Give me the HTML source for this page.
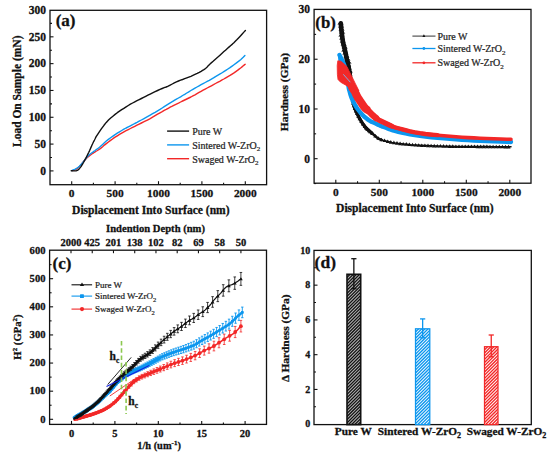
<!DOCTYPE html>
<html><head><meta charset="utf-8"><style>
html,body{margin:0;padding:0;background:#fff;}
svg{display:block;font-family:"Liberation Serif", serif;}
text[font-weight="bold"]{stroke:#111;stroke-width:0.28px;}
text[font-weight="normal"]{stroke:#222;stroke-width:0.22px;}
</style></head><body>
<svg width="550" height="456" viewBox="0 0 550 456">
<rect width="550" height="456" fill="#fff"/>
<rect x="50" y="10.3" width="216.60000000000002" height="174.39999999999998" fill="none" stroke="#111" stroke-width="1.3"/>
<line x1="71.70" y1="184.70" x2="71.70" y2="181.20" stroke="#111" stroke-width="1.1"/>
<line x1="115.10" y1="184.70" x2="115.10" y2="181.20" stroke="#111" stroke-width="1.1"/>
<line x1="158.50" y1="184.70" x2="158.50" y2="181.20" stroke="#111" stroke-width="1.1"/>
<line x1="201.90" y1="184.70" x2="201.90" y2="181.20" stroke="#111" stroke-width="1.1"/>
<line x1="245.30" y1="184.70" x2="245.30" y2="181.20" stroke="#111" stroke-width="1.1"/>
<line x1="93.40" y1="184.70" x2="93.40" y2="182.70" stroke="#111" stroke-width="1.1"/>
<line x1="136.80" y1="184.70" x2="136.80" y2="182.70" stroke="#111" stroke-width="1.1"/>
<line x1="180.20" y1="184.70" x2="180.20" y2="182.70" stroke="#111" stroke-width="1.1"/>
<line x1="223.60" y1="184.70" x2="223.60" y2="182.70" stroke="#111" stroke-width="1.1"/>
<line x1="50.00" y1="170.90" x2="53.50" y2="170.90" stroke="#111" stroke-width="1.1"/>
<line x1="50.00" y1="144.09" x2="53.50" y2="144.09" stroke="#111" stroke-width="1.1"/>
<line x1="50.00" y1="117.27" x2="53.50" y2="117.27" stroke="#111" stroke-width="1.1"/>
<line x1="50.00" y1="90.46" x2="53.50" y2="90.46" stroke="#111" stroke-width="1.1"/>
<line x1="50.00" y1="63.64" x2="53.50" y2="63.64" stroke="#111" stroke-width="1.1"/>
<line x1="50.00" y1="36.83" x2="53.50" y2="36.83" stroke="#111" stroke-width="1.1"/>
<line x1="50.00" y1="157.49" x2="52.00" y2="157.49" stroke="#111" stroke-width="1.1"/>
<line x1="50.00" y1="130.68" x2="52.00" y2="130.68" stroke="#111" stroke-width="1.1"/>
<line x1="50.00" y1="103.86" x2="52.00" y2="103.86" stroke="#111" stroke-width="1.1"/>
<line x1="50.00" y1="77.05" x2="52.00" y2="77.05" stroke="#111" stroke-width="1.1"/>
<line x1="50.00" y1="50.23" x2="52.00" y2="50.23" stroke="#111" stroke-width="1.1"/>
<line x1="50.00" y1="23.42" x2="52.00" y2="23.42" stroke="#111" stroke-width="1.1"/>
<text x="46.1" y="174.75" font-size="11.5" font-weight="bold" text-anchor="end" fill="#111">0</text>
<text x="46.1" y="147.935" font-size="11.5" font-weight="bold" text-anchor="end" fill="#111">50</text>
<text x="46.1" y="121.12" font-size="11.5" font-weight="bold" text-anchor="end" fill="#111">100</text>
<text x="46.1" y="94.305" font-size="11.5" font-weight="bold" text-anchor="end" fill="#111">150</text>
<text x="46.1" y="67.49" font-size="11.5" font-weight="bold" text-anchor="end" fill="#111">200</text>
<text x="46.1" y="40.67500000000002" font-size="11.5" font-weight="bold" text-anchor="end" fill="#111">250</text>
<text x="46.1" y="13.860000000000019" font-size="11.5" font-weight="bold" text-anchor="end" fill="#111">300</text>
<text x="71.7" y="197.1" font-size="11.4" font-weight="bold" text-anchor="middle" fill="#111">0</text>
<text x="115.1" y="197.1" font-size="11.4" font-weight="bold" text-anchor="middle" fill="#111">500</text>
<text x="158.5" y="197.1" font-size="11.4" font-weight="bold" text-anchor="middle" fill="#111">1000</text>
<text x="201.90000000000003" y="197.1" font-size="11.4" font-weight="bold" text-anchor="middle" fill="#111">1500</text>
<text x="245.3" y="197.1" font-size="11.4" font-weight="bold" text-anchor="middle" fill="#111">2000</text>
<text x="150.8" y="213.8" font-size="11.55" font-weight="bold" text-anchor="middle" fill="#111">Displacement Into Surface (nm)</text>
<text x="20.6" y="91.3" font-size="11.5" font-weight="bold" text-anchor="middle" fill="#111" transform="rotate(-90 20.6 91.3)">Load On Sample (mN)</text>
<text x="55.7" y="26.0" font-size="17" font-weight="bold" text-anchor="start" fill="#111">(a)</text>
<polyline points="72.5,170.6 73.2,170.4 74.3,170.1 75.4,169.7 76.5,169.2 77.5,168.5 78.4,167.6 79.3,166.5 80.3,165.5 81.3,164.4 82.2,163.2 83.2,161.9 84.2,160.8 85.2,159.7 86.1,158.7 87.0,157.8 88.0,156.9 89.0,156.1 89.9,155.4 90.9,154.7 91.9,154.0 92.9,153.3 93.8,152.7 94.8,152.1 95.7,151.5 96.6,151.0 97.4,150.5 98.3,150.0 99.5,149.2 100.9,148.1 102.6,146.7 104.4,145.1 106.3,143.6 108.4,142.0 110.6,140.4 112.9,138.7 115.1,137.2 117.3,135.8 119.5,134.4 121.7,133.1 123.9,131.9 126.1,130.7 128.3,129.6 130.4,128.5 132.6,127.4 134.8,126.3 137.0,125.2 139.2,124.1 141.4,123.0 143.6,121.9 145.7,120.9 147.9,119.8 150.2,118.6 152.6,117.2 155.1,115.7 157.6,114.2 160.0,112.8 162.2,111.6 164.2,110.4 166.2,109.4 168.2,108.3 170.2,107.2 172.3,106.2 174.3,105.1 176.4,104.1 178.5,103.1 180.6,102.0 182.6,101.0 184.7,100.0 186.8,99.0 188.8,98.0 190.9,97.0 192.9,95.9 195.0,94.8 197.0,93.6 199.1,92.4 201.1,91.3 203.1,90.2 205.2,89.1 207.2,88.0 209.3,86.9 211.4,85.8 213.5,84.7 215.5,83.5 217.6,82.4 219.7,81.3 221.7,80.1 223.8,79.0 225.8,77.8 227.9,76.6 230.0,75.4 232.1,74.1 234.0,72.9 235.8,71.6 237.5,70.4 239.1,69.1 240.6,68.0 242.0,66.9 243.3,65.8 244.4,64.9 245.2,64.3" fill="none" stroke="#f22828" stroke-width="1.4" stroke-linejoin="round" stroke-linecap="round"/>
<polyline points="71.8,170.6 72.7,170.2 73.9,169.7 75.3,169.1 76.5,168.4 77.5,167.7 78.5,167.0 79.4,166.2 80.3,165.3 81.3,164.3 82.2,163.1 83.2,161.9 84.2,160.7 85.2,159.5 86.1,158.3 87.0,157.1 88.0,156.0 89.0,155.1 89.9,154.3 90.9,153.5 91.9,152.8 92.9,152.1 93.8,151.4 94.8,150.7 95.7,150.0 96.6,149.4 97.4,148.9 98.3,148.2 99.5,147.3 100.9,146.0 102.6,144.4 104.4,142.7 106.3,141.0 108.4,139.4 110.6,137.7 112.9,136.1 115.1,134.6 117.3,133.2 119.5,131.8 121.7,130.5 123.9,129.2 126.1,128.0 128.3,126.9 130.4,125.8 132.6,124.7 134.8,123.5 137.0,122.4 139.2,121.2 141.4,120.0 143.6,118.8 145.7,117.6 147.9,116.4 150.2,115.1 152.6,113.7 155.1,112.3 157.6,110.8 160.0,109.4 162.2,108.0 164.2,106.7 166.2,105.4 168.2,104.1 170.2,102.8 172.3,101.6 174.3,100.4 176.4,99.2 178.5,98.0 180.6,96.8 182.6,95.5 184.7,94.3 186.8,93.0 188.8,91.8 190.9,90.5 192.9,89.3 195.0,88.1 197.0,87.0 199.1,85.8 201.1,84.7 203.1,83.6 205.2,82.5 207.2,81.4 209.3,80.3 211.4,79.1 213.5,77.9 215.5,76.6 217.6,75.4 219.7,74.2 221.7,73.0 223.8,71.7 225.8,70.4 227.9,69.0 230.0,67.6 232.1,66.1 234.0,64.7 235.8,63.4 237.5,62.1 239.1,60.9 240.6,59.7 241.9,58.5 243.2,57.3 244.2,56.2 244.9,55.5" fill="none" stroke="#0c96ee" stroke-width="1.4" stroke-linejoin="round" stroke-linecap="round"/>
<polyline points="71.2,170.8 72.2,170.8 73.7,170.9 75.2,170.9 76.5,170.7 77.4,170.3 78.2,169.8 78.9,169.2 79.6,168.4 80.4,167.4 81.2,166.3 81.9,165.1 82.7,163.8 83.5,162.5 84.2,161.2 84.9,159.8 85.7,158.4 86.5,156.9 87.2,155.5 88.0,153.9 88.8,152.3 89.6,150.6 90.4,148.7 91.2,146.9 91.9,145.2 92.6,143.8 93.2,142.5 93.8,141.3 94.5,140.0 95.1,138.8 95.6,137.7 96.3,136.4 97.5,134.6 99.3,131.9 101.5,128.7 104.0,125.3 106.3,122.4 108.5,120.1 110.7,118.0 112.9,116.2 115.1,114.4 117.3,112.7 119.5,111.2 121.7,109.7 123.9,108.3 126.1,106.9 128.3,105.5 130.4,104.2 132.6,103.0 134.8,101.8 137.0,100.7 139.2,99.6 141.4,98.5 143.6,97.4 145.7,96.3 147.9,95.2 150.2,94.1 152.6,92.9 155.1,91.7 157.6,90.5 160.0,89.4 162.2,88.5 164.2,87.7 166.2,87.0 168.2,86.1 170.2,85.1 172.3,84.0 174.3,82.9 176.4,81.9 178.5,81.0 180.6,80.2 182.6,79.5 184.7,78.7 186.8,77.9 188.8,77.1 190.9,76.3 192.9,75.4 195.0,74.4 197.2,73.4 199.3,72.3 201.1,71.3 202.6,70.4 203.9,69.6 205.1,68.8 206.1,68.0 206.9,67.3 207.5,66.6 208.2,65.8 209.3,64.7 211.0,63.1 213.1,61.3 215.4,59.2 217.6,57.3 219.7,55.4 221.8,53.5 223.9,51.6 225.8,49.9 227.6,48.3 229.2,46.9 230.8,45.5 232.4,44.1 233.9,42.7 235.3,41.3 236.8,39.8 238.3,38.2 240.2,36.2 242.2,34.0 244.1,31.9 245.4,30.5" fill="none" stroke="#111" stroke-width="1.4" stroke-linejoin="round" stroke-linecap="round"/>
<line x1="167.10" y1="131.10" x2="189.10" y2="131.10" stroke="#111" stroke-width="1.4"/>
<text x="192.2" y="135.0" font-size="10" font-weight="normal" text-anchor="start" fill="#222">Pure W</text>
<line x1="167.10" y1="144.90" x2="189.10" y2="144.90" stroke="#0c96ee" stroke-width="1.4"/>
<text x="192.2" y="148.8" font-size="10" font-weight="normal" text-anchor="start" fill="#222">Sintered W-ZrO<tspan font-size="7" dy="2.5">2</tspan></text>
<line x1="167.10" y1="158.70" x2="189.10" y2="158.70" stroke="#f22828" stroke-width="1.4"/>
<text x="192.2" y="162.6" font-size="10" font-weight="normal" text-anchor="start" fill="#222">Swaged W-ZrO<tspan font-size="7" dy="2.5">2</tspan></text>
<rect x="314.1" y="9.4" width="216.89999999999998" height="173.79999999999998" fill="none" stroke="#111" stroke-width="1.3"/>
<line x1="335.80" y1="183.20" x2="335.80" y2="179.70" stroke="#111" stroke-width="1.1"/>
<line x1="379.30" y1="183.20" x2="379.30" y2="179.70" stroke="#111" stroke-width="1.1"/>
<line x1="422.80" y1="183.20" x2="422.80" y2="179.70" stroke="#111" stroke-width="1.1"/>
<line x1="466.30" y1="183.20" x2="466.30" y2="179.70" stroke="#111" stroke-width="1.1"/>
<line x1="509.80" y1="183.20" x2="509.80" y2="179.70" stroke="#111" stroke-width="1.1"/>
<line x1="357.55" y1="183.20" x2="357.55" y2="181.20" stroke="#111" stroke-width="1.1"/>
<line x1="401.05" y1="183.20" x2="401.05" y2="181.20" stroke="#111" stroke-width="1.1"/>
<line x1="444.55" y1="183.20" x2="444.55" y2="181.20" stroke="#111" stroke-width="1.1"/>
<line x1="488.05" y1="183.20" x2="488.05" y2="181.20" stroke="#111" stroke-width="1.1"/>
<line x1="314.10" y1="158.70" x2="317.60" y2="158.70" stroke="#111" stroke-width="1.1"/>
<line x1="314.10" y1="108.97" x2="317.60" y2="108.97" stroke="#111" stroke-width="1.1"/>
<line x1="314.10" y1="59.24" x2="317.60" y2="59.24" stroke="#111" stroke-width="1.1"/>
<line x1="314.10" y1="183.56" x2="316.10" y2="183.56" stroke="#111" stroke-width="1.1"/>
<line x1="314.10" y1="133.83" x2="316.10" y2="133.83" stroke="#111" stroke-width="1.1"/>
<line x1="314.10" y1="84.10" x2="316.10" y2="84.10" stroke="#111" stroke-width="1.1"/>
<line x1="314.10" y1="34.37" x2="316.10" y2="34.37" stroke="#111" stroke-width="1.1"/>
<text x="310.0" y="162.54999999999998" font-size="11.5" font-weight="bold" text-anchor="end" fill="#111">0</text>
<text x="310.0" y="112.82" font-size="11.5" font-weight="bold" text-anchor="end" fill="#111">10</text>
<text x="310.0" y="63.089999999999996" font-size="11.5" font-weight="bold" text-anchor="end" fill="#111">20</text>
<text x="310.0" y="13.35999999999999" font-size="11.5" font-weight="bold" text-anchor="end" fill="#111">30</text>
<text x="335.8" y="196.4" font-size="11.4" font-weight="bold" text-anchor="middle" fill="#111">0</text>
<text x="379.3" y="196.4" font-size="11.4" font-weight="bold" text-anchor="middle" fill="#111">500</text>
<text x="422.8" y="196.4" font-size="11.4" font-weight="bold" text-anchor="middle" fill="#111">1000</text>
<text x="466.3" y="196.4" font-size="11.4" font-weight="bold" text-anchor="middle" fill="#111">1500</text>
<text x="509.8" y="196.4" font-size="11.4" font-weight="bold" text-anchor="middle" fill="#111">2000</text>
<text x="414.8" y="212.4" font-size="11.55" font-weight="bold" text-anchor="middle" fill="#111">Displacement Into Surface (nm)</text>
<text x="288" y="92.1" font-size="11.4" font-weight="bold" text-anchor="middle" fill="#111" transform="rotate(-90 288 92.1)">Hardness (GPa)</text>
<text x="315.3" y="27.5" font-size="16.8" font-weight="bold" text-anchor="start" fill="#111">(b)</text>
<polyline points="340.8,22.7 340.9,23.8 341.0,25.4 341.1,27.3 341.3,29.4 341.5,31.4 341.7,33.5 342.0,35.6 342.3,37.9 342.6,40.2 343.0,42.4 343.5,44.6 344.0,46.9 344.6,49.1 345.1,51.3 345.7,53.4 346.2,55.4 346.8,57.4 347.3,59.3 347.8,61.1 348.3,63.0 348.7,64.8 349.1,66.5 349.4,68.3 349.7,70.1 350.0,72.0 350.2,74.1 350.5,76.2 350.6,78.4 350.8,80.7 351.0,83.0 351.2,85.4 351.3,87.8 351.4,90.3 351.6,92.7 351.8,95.0 352.1,97.2 352.5,99.2 352.9,101.3 353.3,103.2 353.8,105.0 354.3,106.7 354.9,108.3 355.5,109.8 356.1,111.3 356.8,112.8 357.5,114.3 358.2,115.7 358.9,117.1 359.7,118.6 360.5,120.0 361.4,121.5 362.4,123.1 363.4,124.6 364.5,126.1 365.6,127.5 366.9,128.8 368.2,130.1 369.6,131.2 370.9,132.3 372.0,133.2 372.8,133.9 373.3,134.4 373.8,134.8 374.3,135.3 375.0,135.8 375.8,136.5 376.6,137.2 377.5,137.9 378.6,138.6 380.0,139.3 381.7,139.9" fill="none" stroke="#111" stroke-width="2.6" stroke-linejoin="round" stroke-linecap="round"/>
<polyline points="345.1,51.3 345.7,53.4 346.2,55.4 346.8,57.4 347.3,59.3 347.8,61.1 348.3,63.0 348.7,64.8 349.1,66.5 349.4,68.3 349.7,70.1 350.0,72.0 350.2,74.1 350.5,76.2 350.6,78.4 350.8,80.7 351.0,83.0 351.2,85.4 351.3,87.8 351.4,90.3 351.6,92.7 351.8,95.0 352.1,97.2 352.5,99.2 352.9,101.3 353.3,103.2 353.8,105.0 354.3,106.7 354.9,108.3 355.5,109.8 356.1,111.3 356.8,112.8 357.5,114.3 358.2,115.7 358.9,117.1 359.7,118.6 360.5,120.0 361.4,121.5 362.4,123.1 363.4,124.6 364.5,126.1 365.6,127.5 366.9,128.8 368.2,130.1 369.6,131.2 370.9,132.3 372.0,133.2" fill="none" stroke="#111" stroke-width="3.4" stroke-linejoin="round" stroke-linecap="round"/>
<path d="M347.7,73.5 L350.0,70.1 L352.3,73.5Z" fill="#111"/>
<path d="M347.9,76.1 L350.2,72.7 L352.5,76.1Z" fill="#111"/>
<path d="M348.2,78.7 L350.5,75.3 L352.8,78.7Z" fill="#111"/>
<path d="M348.4,81.3 L350.7,77.9 L353.0,81.3Z" fill="#111"/>
<path d="M348.6,83.9 L350.9,80.5 L353.2,83.9Z" fill="#111"/>
<path d="M348.8,86.5 L351.1,83.1 L353.4,86.5Z" fill="#111"/>
<path d="M349.0,89.1 L351.3,85.7 L353.6,89.1Z" fill="#111"/>
<path d="M349.2,91.7 L351.5,88.3 L353.8,91.7Z" fill="#111"/>
<path d="M349.4,94.3 L351.7,90.9 L354.0,94.3Z" fill="#111"/>
<path d="M349.6,96.9 L351.9,93.5 L354.2,96.9Z" fill="#111"/>
<path d="M350.1,99.5 L352.4,96.1 L354.7,99.5Z" fill="#111"/>
<path d="M350.6,102.1 L352.9,98.7 L355.2,102.1Z" fill="#111"/>
<path d="M351.1,104.7 L353.4,101.3 L355.7,104.7Z" fill="#111"/>
<path d="M351.8,107.3 L354.1,103.9 L356.4,107.3Z" fill="#111"/>
<path d="M352.8,109.9 L355.1,106.5 L357.4,109.9Z" fill="#111"/>
<path d="M353.8,112.5 L356.1,109.1 L358.4,112.5Z" fill="#111"/>
<path d="M354.9,115.1 L357.2,111.7 L359.5,115.1Z" fill="#111"/>
<path d="M356.2,117.7 L358.5,114.3 L360.8,117.7Z" fill="#111"/>
<path d="M357.6,120.3 L359.9,116.9 L362.2,120.3Z" fill="#111"/>
<path d="M359.2,122.9 L361.5,119.5 L363.8,122.9Z" fill="#111"/>
<path d="M360.9,125.5 L363.2,122.1 L365.5,125.5Z" fill="#111"/>
<path d="M362.7,128.1 L365.0,124.7 L367.3,128.1Z" fill="#111"/>
<path d="M365.2,130.7 L367.5,127.3 L369.8,130.7Z" fill="#111"/>
<path d="M368.1,133.3 L370.4,129.9 L372.7,133.3Z" fill="#111"/>
<polyline points="378.6,138.6 380.0,139.3 381.7,139.9 383.6,140.5 385.8,141.0 387.9,141.5 390.0,142.0 391.8,142.4 393.5,142.7 395.3,143.0 397.4,143.3 400.0,143.6 403.2,143.9 406.8,144.3 410.8,144.7 415.2,145.0 420.0,145.3 425.4,145.6 431.3,145.8 437.5,146.0 443.8,146.2 450.0,146.3 456.0,146.4 462.0,146.5 467.9,146.5 473.9,146.6 480.0,146.6 486.6,146.6 493.8,146.7 500.8,146.7 506.8,146.8 511.0,146.8" fill="none" stroke="#111" stroke-width="1.5" stroke-linejoin="round" stroke-linecap="round"/>
<polyline points="340.8,23.2 341.5,31.4 343.0,42.4 345.7,53.4 347.6,64.3 349.6,75.5" fill="none" stroke="#111" stroke-width="4.6" stroke-linejoin="round" stroke-linecap="round"/>
<path d="M337.4,24.4 L340.5,21.2 L343.6,24.4Z" fill="#111"/>
<path d="M338.0,27.4 L341.1,24.2 L344.2,27.4Z" fill="#111"/>
<path d="M338.5,30.4 L341.6,27.2 L344.7,30.4Z" fill="#111"/>
<path d="M339.1,33.4 L342.2,30.2 L345.3,33.4Z" fill="#111"/>
<path d="M338.3,36.4 L341.4,33.2 L344.5,36.4Z" fill="#111"/>
<path d="M339.0,39.4 L342.1,36.2 L345.2,39.4Z" fill="#111"/>
<path d="M339.7,42.4 L342.8,39.2 L345.9,42.4Z" fill="#111"/>
<path d="M340.6,45.4 L343.7,42.2 L346.8,45.4Z" fill="#111"/>
<path d="M341.6,48.4 L344.7,45.2 L347.8,48.4Z" fill="#111"/>
<path d="M341.2,51.4 L344.3,48.2 L347.4,51.4Z" fill="#111"/>
<path d="M342.2,54.4 L345.3,51.2 L348.4,54.4Z" fill="#111"/>
<path d="M343.3,57.4 L346.4,54.2 L349.5,57.4Z" fill="#111"/>
<path d="M344.4,60.4 L347.5,57.2 L350.6,60.4Z" fill="#111"/>
<path d="M345.5,63.4 L348.6,60.2 L351.7,63.4Z" fill="#111"/>
<path d="M345.0,66.4 L348.1,63.2 L351.2,66.4Z" fill="#111"/>
<path d="M345.8,69.4 L348.9,66.2 L352.0,69.4Z" fill="#111"/>
<path d="M346.7,72.4 L349.8,69.2 L352.9,72.4Z" fill="#111"/>
<path d="M364.0,129.5 L366.0,125.9 L368.0,129.5Z" fill="#111"/>
<path d="M367.1,132.2 L369.1,128.6 L371.1,132.2Z" fill="#111"/>
<path d="M370.2,135.0 L372.2,131.4 L374.2,135.0Z" fill="#111"/>
<path d="M373.3,137.6 L375.3,134.0 L377.3,137.6Z" fill="#111"/>
<path d="M376.4,139.8 L378.4,136.2 L380.4,139.8Z" fill="#111"/>
<path d="M379.5,141.3 L381.5,137.7 L383.5,141.3Z" fill="#111"/>
<path d="M382.6,142.1 L384.6,138.5 L386.6,142.1Z" fill="#111"/>
<path d="M385.7,143.0 L387.7,139.4 L389.7,143.0Z" fill="#111"/>
<path d="M388.8,143.7 L390.8,140.1 L392.8,143.7Z" fill="#111"/>
<path d="M391.9,144.2 L393.9,140.6 L395.9,144.2Z" fill="#111"/>
<path d="M395.0,144.7 L397.0,141.1 L399.0,144.7Z" fill="#111"/>
<path d="M398.1,145.2 L400.1,141.6 L402.1,145.2Z" fill="#111"/>
<path d="M401.2,145.5 L403.2,141.9 L405.2,145.5Z" fill="#111"/>
<path d="M404.3,145.7 L406.3,142.1 L408.3,145.7Z" fill="#111"/>
<path d="M407.4,146.0 L409.4,142.4 L411.4,146.0Z" fill="#111"/>
<path d="M410.5,146.3 L412.5,142.7 L414.5,146.3Z" fill="#111"/>
<path d="M413.6,146.5 L415.6,142.9 L417.6,146.5Z" fill="#111"/>
<path d="M416.7,146.8 L418.7,143.2 L420.7,146.8Z" fill="#111"/>
<path d="M419.8,147.0 L421.8,143.4 L423.8,147.0Z" fill="#111"/>
<path d="M422.9,147.1 L424.9,143.5 L426.9,147.1Z" fill="#111"/>
<path d="M426.0,147.2 L428.0,143.6 L430.0,147.2Z" fill="#111"/>
<path d="M429.1,147.3 L431.1,143.7 L433.1,147.3Z" fill="#111"/>
<path d="M432.2,147.4 L434.2,143.8 L436.2,147.4Z" fill="#111"/>
<path d="M435.3,147.5 L437.3,143.9 L439.3,147.5Z" fill="#111"/>
<path d="M438.4,147.6 L440.4,144.0 L442.4,147.6Z" fill="#111"/>
<path d="M441.5,147.7 L443.5,144.1 L445.5,147.7Z" fill="#111"/>
<path d="M444.6,147.8 L446.6,144.2 L448.6,147.8Z" fill="#111"/>
<path d="M447.7,147.9 L449.7,144.3 L451.7,147.9Z" fill="#111"/>
<path d="M450.8,147.9 L452.8,144.3 L454.8,147.9Z" fill="#111"/>
<path d="M453.9,148.0 L455.9,144.4 L457.9,148.0Z" fill="#111"/>
<path d="M457.0,148.0 L459.0,144.4 L461.0,148.0Z" fill="#111"/>
<path d="M460.1,148.0 L462.1,144.4 L464.1,148.0Z" fill="#111"/>
<path d="M463.2,148.1 L465.2,144.5 L467.2,148.1Z" fill="#111"/>
<path d="M466.3,148.1 L468.3,144.5 L470.3,148.1Z" fill="#111"/>
<path d="M469.4,148.1 L471.4,144.5 L473.4,148.1Z" fill="#111"/>
<path d="M472.5,148.1 L474.5,144.5 L476.5,148.1Z" fill="#111"/>
<path d="M475.6,148.2 L477.6,144.6 L479.6,148.2Z" fill="#111"/>
<path d="M478.7,148.2 L480.7,144.6 L482.7,148.2Z" fill="#111"/>
<path d="M481.8,148.2 L483.8,144.6 L485.8,148.2Z" fill="#111"/>
<path d="M484.9,148.2 L486.9,144.6 L488.9,148.2Z" fill="#111"/>
<path d="M488.0,148.3 L490.0,144.7 L492.0,148.3Z" fill="#111"/>
<path d="M491.1,148.3 L493.1,144.7 L495.1,148.3Z" fill="#111"/>
<path d="M494.2,148.3 L496.2,144.7 L498.2,148.3Z" fill="#111"/>
<path d="M497.3,148.3 L499.3,144.7 L501.3,148.3Z" fill="#111"/>
<path d="M500.4,148.3 L502.4,144.7 L504.4,148.3Z" fill="#111"/>
<path d="M503.5,148.4 L505.5,144.8 L507.5,148.4Z" fill="#111"/>
<path d="M506.6,148.4 L508.6,144.8 L510.6,148.4Z" fill="#111"/>
<polyline points="339.5,55.0 339.8,55.7 340.3,56.6 340.9,57.7 341.5,58.9 342.0,60.0 342.5,61.1 343.0,62.2 343.5,63.3 344.0,64.6 344.5,66.0 344.9,67.6 345.4,69.4 345.8,71.3 346.1,73.2 346.5,75.0 346.8,76.8 347.1,78.7 347.4,80.5 347.7,82.3 348.0,84.0 348.3,85.5 348.6,86.9 348.8,88.2 349.1,89.6 349.5,91.0 349.9,92.5 350.3,94.0 350.8,95.6 351.3,97.2 352.0,98.8 352.8,100.5 353.6,102.3 354.5,104.0 355.5,105.8 356.6,107.5 357.8,109.2 359.0,110.8 360.3,112.5 361.7,114.0 363.0,115.4 364.3,116.7 365.7,117.8 367.0,118.9 368.4,119.9 369.6,120.7 370.8,121.4 371.9,121.9 372.9,122.3 374.0,122.8 375.0,123.2 375.9,123.7 376.8,124.1 377.7,124.6 378.7,125.0 380.0,125.6 381.7,126.3 383.7,127.0 385.9,127.8 388.0,128.6 390.0,129.3 391.5,129.9 392.8,130.3 394.0,130.7 395.7,131.2 398.2,131.8 401.6,132.5 405.5,133.4 410.0,134.3 414.9,135.1 420.0,135.9 425.5,136.6 431.4,137.2 437.6,137.8 443.9,138.4 450.0,138.9 456.0,139.4 462.0,139.8 467.9,140.1 473.9,140.5 480.0,140.8 486.6,141.1 493.8,141.4 500.8,141.6 506.8,141.8 511.0,142.0" fill="none" stroke="#0c96ee" stroke-width="4.4" stroke-linejoin="round" stroke-linecap="round"/>
<polyline points="339.6,55.0 340.0,60.0 341.5,64.0 343.5,67.0" fill="none" stroke="#0c96ee" stroke-width="3.4" stroke-linejoin="round" stroke-linecap="round"/>
<polyline points="352.5,88.0 352.8,88.4 353.1,88.8 353.5,89.4 354.0,90.2 354.5,91.0 355.0,92.0 355.6,93.2 356.2,94.5 356.9,95.8 357.5,97.0 358.1,98.1 358.8,99.0 359.4,100.0 360.1,101.0 360.8,102.0 361.5,103.1 362.2,104.2 363.0,105.3 363.8,106.5 364.6,107.5 365.5,108.5 366.6,109.4 367.6,110.4 368.6,111.2 369.5,112.0 370.2,112.7 370.8,113.3 371.4,113.9 371.9,114.4 372.5,115.0 373.2,115.6 373.8,116.2 374.5,116.8 375.3,117.4 376.0,118.0 376.7,118.5 377.3,119.0 377.9,119.4 378.8,120.0 380.0,120.6 381.6,121.4 383.7,122.4 385.8,123.4 388.0,124.4 390.0,125.3 391.5,126.0 392.8,126.5 394.0,127.0 395.7,127.6 398.2,128.3 401.6,129.2 405.5,130.2 410.0,131.3 414.9,132.3 420.0,133.2 425.5,134.0 431.4,134.6 437.6,135.2 443.9,135.8 450.0,136.3 456.0,136.8 462.0,137.2 467.9,137.6 473.9,137.9 480.0,138.2 486.6,138.5 493.8,138.8 500.8,139.0 506.8,139.2 511.0,139.3" fill="none" stroke="#f22828" stroke-width="3.6" stroke-linejoin="round" stroke-linecap="round"/>
<polyline points="352.5,88.0 352.8,88.4 353.1,88.8 353.5,89.4 354.0,90.2 354.5,91.0 355.0,92.0 355.6,93.2 356.2,94.5 356.9,95.8 357.5,97.0 358.1,98.1 358.8,99.0 359.4,100.0 360.1,101.0 360.8,102.0 361.5,103.1 362.2,104.2 363.0,105.3 363.8,106.5 364.6,107.5 365.5,108.5 366.6,109.4 367.6,110.4 368.6,111.2 369.5,112.0 370.2,112.7 370.8,113.3 371.4,113.9 371.9,114.4 372.5,115.0 373.2,115.6 373.8,116.2 374.5,116.8 375.3,117.4 376.0,118.0 376.7,118.5 377.3,119.0 377.9,119.4 378.8,120.0 380.0,120.6 381.6,121.4 383.7,122.4 385.8,123.4 388.0,124.4 390.0,125.3 391.5,126.0 392.8,126.5 394.0,127.0 395.7,127.6 398.2,128.3 401.6,129.2 405.5,130.2 410.0,131.3 414.9,132.3 420.0,133.2 425.5,134.0 431.4,134.6 437.6,135.2" fill="none" stroke="#f22828" stroke-width="4.3" stroke-linejoin="round" stroke-linecap="round"/>
<polyline points="352.5,88.0 352.8,88.4 353.1,88.8 353.5,89.4 354.0,90.2 354.5,91.0 355.0,92.0 355.6,93.2 356.2,94.5 356.9,95.8 357.5,97.0 358.1,98.1 358.8,99.0 359.4,100.0 360.1,101.0 360.8,102.0 361.5,103.1 362.2,104.2 363.0,105.3 363.8,106.5 364.6,107.5 365.5,108.5 366.6,109.4 367.6,110.4 368.6,111.2 369.5,112.0 370.2,112.7 370.8,113.3 371.4,113.9 371.9,114.4 372.5,115.0 373.2,115.6 373.8,116.2 374.5,116.8 375.3,117.4 376.0,118.0 376.7,118.5 377.3,119.0 377.9,119.4 378.8,120.0 380.0,120.6 381.6,121.4 383.7,122.4 385.8,123.4 388.0,124.4 390.0,125.3 391.5,126.0" fill="none" stroke="#f22828" stroke-width="5.2" stroke-linejoin="round" stroke-linecap="round"/>
<polyline points="352.5,88.0 352.8,88.4 353.1,88.8 353.5,89.4 354.0,90.2 354.5,91.0 355.0,92.0 355.6,93.2 356.2,94.5 356.9,95.8 357.5,97.0 358.1,98.1 358.8,99.0 359.4,100.0 360.1,101.0 360.8,102.0 361.5,103.1 362.2,104.2 363.0,105.3 363.8,106.5 364.6,107.5 365.5,108.5 366.6,109.4 367.6,110.4 368.6,111.2 369.5,112.0 370.2,112.7 370.8,113.3 371.4,113.9 371.9,114.4 372.5,115.0 373.2,115.6 373.8,116.2 374.5,116.8 375.3,117.4 376.0,118.0" fill="none" stroke="#f22828" stroke-width="6.4" stroke-linejoin="round" stroke-linecap="round"/>
<polyline points="352.5,88.0 352.8,88.4 353.1,88.8 353.5,89.4 354.0,90.2 354.5,91.0 355.0,92.0 355.6,93.2 356.2,94.5 356.9,95.8 357.5,97.0 358.1,98.1 358.8,99.0 359.4,100.0 360.1,101.0 360.8,102.0 361.5,103.1 362.2,104.2 363.0,105.3 363.8,106.5 364.6,107.5 365.5,108.5 366.6,109.4" fill="none" stroke="#f22828" stroke-width="8.0" stroke-linejoin="round" stroke-linecap="round"/>
<path d="M337.8,60.8 L337.2,65.5 L337.4,74.7 L338,79.5 L340.6,82.2 L346.8,85.7 L348.5,87.4 L351.2,92.7 L359,91 L355.5,83.9 L351.2,75.2 L346.8,66.4 L340.9,61.2 Z" fill="#f22828" stroke="#f22828" stroke-width="0.8" stroke-linejoin="round"/>
<line x1="343.30" y1="74.30" x2="350.30" y2="82.20" stroke="#7ab8f0" stroke-width="0.9"/>
<line x1="412.40" y1="36.10" x2="435.50" y2="36.10" stroke="#444" stroke-width="1.1"/>
<path d="M422.4,37.1 L423.9,34.300000000000004 L425.4,37.1Z" fill="#111"/>
<text x="437.4" y="39.7" font-size="10" font-weight="normal" text-anchor="start" fill="#222">Pure W</text>
<line x1="412.40" y1="48.50" x2="435.50" y2="48.50" stroke="#0c96ee" stroke-width="1.3"/>
<circle cx="423.9" cy="48.5" r="1.4" fill="#0c96ee"/>
<text x="437.4" y="52.1" font-size="10" font-weight="normal" text-anchor="start" fill="#222">Sintered W-ZrO<tspan font-size="7" dy="2.5">2</tspan></text>
<line x1="412.40" y1="62.80" x2="435.50" y2="62.80" stroke="#f22828" stroke-width="1.3"/>
<circle cx="423.9" cy="62.8" r="1.4" fill="#f22828"/>
<text x="437.4" y="66.39999999999999" font-size="10" font-weight="normal" text-anchor="start" fill="#222">Swaged W-ZrO<tspan font-size="7" dy="2.5">2</tspan></text>
<rect x="49.6" y="250.2" width="216.9" height="174.2" fill="none" stroke="#111" stroke-width="1.3"/>
<line x1="71.50" y1="424.40" x2="71.50" y2="420.90" stroke="#111" stroke-width="1.1"/>
<line x1="114.90" y1="424.40" x2="114.90" y2="420.90" stroke="#111" stroke-width="1.1"/>
<line x1="158.30" y1="424.40" x2="158.30" y2="420.90" stroke="#111" stroke-width="1.1"/>
<line x1="201.70" y1="424.40" x2="201.70" y2="420.90" stroke="#111" stroke-width="1.1"/>
<line x1="245.10" y1="424.40" x2="245.10" y2="420.90" stroke="#111" stroke-width="1.1"/>
<line x1="93.20" y1="424.40" x2="93.20" y2="422.40" stroke="#111" stroke-width="1.1"/>
<line x1="136.60" y1="424.40" x2="136.60" y2="422.40" stroke="#111" stroke-width="1.1"/>
<line x1="180.00" y1="424.40" x2="180.00" y2="422.40" stroke="#111" stroke-width="1.1"/>
<line x1="223.40" y1="424.40" x2="223.40" y2="422.40" stroke="#111" stroke-width="1.1"/>
<line x1="49.60" y1="419.30" x2="53.10" y2="419.30" stroke="#111" stroke-width="1.1"/>
<line x1="49.60" y1="391.18" x2="53.10" y2="391.18" stroke="#111" stroke-width="1.1"/>
<line x1="49.60" y1="363.06" x2="53.10" y2="363.06" stroke="#111" stroke-width="1.1"/>
<line x1="49.60" y1="334.94" x2="53.10" y2="334.94" stroke="#111" stroke-width="1.1"/>
<line x1="49.60" y1="306.82" x2="53.10" y2="306.82" stroke="#111" stroke-width="1.1"/>
<line x1="49.60" y1="278.70" x2="53.10" y2="278.70" stroke="#111" stroke-width="1.1"/>
<line x1="49.60" y1="405.24" x2="51.60" y2="405.24" stroke="#111" stroke-width="1.1"/>
<line x1="49.60" y1="377.12" x2="51.60" y2="377.12" stroke="#111" stroke-width="1.1"/>
<line x1="49.60" y1="349.00" x2="51.60" y2="349.00" stroke="#111" stroke-width="1.1"/>
<line x1="49.60" y1="320.88" x2="51.60" y2="320.88" stroke="#111" stroke-width="1.1"/>
<line x1="49.60" y1="292.76" x2="51.60" y2="292.76" stroke="#111" stroke-width="1.1"/>
<line x1="49.60" y1="264.64" x2="51.60" y2="264.64" stroke="#111" stroke-width="1.1"/>
<text x="45.5" y="422.5" font-size="10.6" font-weight="bold" text-anchor="end" fill="#111">0</text>
<text x="45.5" y="394.38" font-size="10.6" font-weight="bold" text-anchor="end" fill="#111">100</text>
<text x="45.5" y="366.26" font-size="10.6" font-weight="bold" text-anchor="end" fill="#111">200</text>
<text x="45.5" y="338.14" font-size="10.6" font-weight="bold" text-anchor="end" fill="#111">300</text>
<text x="45.5" y="310.02" font-size="10.6" font-weight="bold" text-anchor="end" fill="#111">400</text>
<text x="45.5" y="281.90000000000003" font-size="10.6" font-weight="bold" text-anchor="end" fill="#111">500</text>
<text x="45.5" y="253.78" font-size="10.6" font-weight="bold" text-anchor="end" fill="#111">600</text>
<text x="71.5" y="437.1" font-size="10.5" font-weight="bold" text-anchor="middle" fill="#111">0</text>
<text x="114.9" y="437.1" font-size="10.5" font-weight="bold" text-anchor="middle" fill="#111">5</text>
<text x="158.3" y="437.1" font-size="10.5" font-weight="bold" text-anchor="middle" fill="#111">10</text>
<text x="201.7" y="437.1" font-size="10.5" font-weight="bold" text-anchor="middle" fill="#111">15</text>
<text x="245.1" y="437.1" font-size="10.5" font-weight="bold" text-anchor="middle" fill="#111">20</text>
<line x1="71.00" y1="250.20" x2="71.00" y2="253.20" stroke="#111" stroke-width="1.1"/>
<text x="71.0" y="245.6" font-size="10.5" font-weight="bold" text-anchor="middle" fill="#111">2000</text>
<line x1="92.24" y1="250.20" x2="92.24" y2="253.20" stroke="#111" stroke-width="1.1"/>
<text x="92.24" y="245.6" font-size="10.5" font-weight="bold" text-anchor="middle" fill="#111">425</text>
<line x1="113.48" y1="250.20" x2="113.48" y2="253.20" stroke="#111" stroke-width="1.1"/>
<text x="113.47999999999999" y="245.6" font-size="10.5" font-weight="bold" text-anchor="middle" fill="#111">201</text>
<line x1="134.72" y1="250.20" x2="134.72" y2="253.20" stroke="#111" stroke-width="1.1"/>
<text x="134.72" y="245.6" font-size="10.5" font-weight="bold" text-anchor="middle" fill="#111">138</text>
<line x1="155.96" y1="250.20" x2="155.96" y2="253.20" stroke="#111" stroke-width="1.1"/>
<text x="155.95999999999998" y="245.6" font-size="10.5" font-weight="bold" text-anchor="middle" fill="#111">102</text>
<line x1="177.20" y1="250.20" x2="177.20" y2="253.20" stroke="#111" stroke-width="1.1"/>
<text x="177.2" y="245.6" font-size="10.5" font-weight="bold" text-anchor="middle" fill="#111">82</text>
<line x1="198.44" y1="250.20" x2="198.44" y2="253.20" stroke="#111" stroke-width="1.1"/>
<text x="198.44" y="245.6" font-size="10.5" font-weight="bold" text-anchor="middle" fill="#111">69</text>
<line x1="219.68" y1="250.20" x2="219.68" y2="253.20" stroke="#111" stroke-width="1.1"/>
<text x="219.67999999999998" y="245.6" font-size="10.5" font-weight="bold" text-anchor="middle" fill="#111">58</text>
<line x1="240.92" y1="250.20" x2="240.92" y2="253.20" stroke="#111" stroke-width="1.1"/>
<text x="240.92" y="245.6" font-size="10.5" font-weight="bold" text-anchor="middle" fill="#111">50</text>
<text x="155.5" y="232" font-size="10.6" font-weight="bold" text-anchor="middle" fill="#111">Indention Depth (nm)</text>
<text x="137.2" y="449.4" font-size="10.4" font-weight="bold" text-anchor="start" fill="#111">1/h (um<tspan font-size="7" dy="-4">-1</tspan><tspan dy="4">)</tspan></text>
<text x="21.2" y="337" font-size="10.7" font-weight="bold" text-anchor="middle" fill="#111" transform="rotate(-90 21.2 337)">H<tspan font-size="7" dy="-4">2</tspan><tspan dy="4"> (GPa</tspan><tspan font-size="7" dy="-4">2</tspan><tspan dy="4">)</tspan></text>
<text x="52.5" y="268.8" font-size="17" font-weight="bold" text-anchor="start" fill="#111">(c)</text>
<polyline points="74.7,419.5 75.7,419.2 77.2,418.8 78.9,418.2 80.7,417.7 82.7,417.1 84.9,416.5 87.1,415.9 89.2,415.3 91.1,414.7 92.9,414.1 94.6,413.5 96.4,412.9 98.2,412.2 100.1,411.5 101.9,410.7 103.6,409.9 105.2,409.1 106.7,408.2 108.2,407.2 109.7,406.2 111.2,405.1 112.8,403.9 114.3,402.7 115.7,401.4 117.0,400.1 118.3,398.7 119.5,397.3 120.6,396.0 121.6,394.9 122.4,393.8 123.3,392.8 124.2,391.7 125.3,390.5 126.5,389.1 127.7,387.8 128.9,386.5 130.1,385.2 131.4,383.9 132.7,382.7 134.0,381.5 135.3,380.4 136.6,379.5 138.1,378.5 140.0,377.5 142.4,376.4 145.2,375.2 148.1,374.0 151.0,372.8 153.7,371.7 156.4,370.6 159.2,369.5" fill="none" stroke="#f22828" stroke-width="3.0" stroke-linejoin="round" stroke-linecap="round"/>
<polyline points="151.0,372.8 153.7,371.7 156.4,370.6 159.2,369.5 161.9,368.4 164.6,367.2 167.4,366.0 170.1,364.8 172.9,363.7 175.7,362.8 178.4,361.9 181.2,361.1 183.9,360.2 186.8,359.1 189.7,358.0 192.5,356.8 194.8,355.8 196.5,355.0 197.7,354.3 198.8,353.7 199.9,353.0 201.1,352.3 202.4,351.6 203.6,350.9 204.8,350.3 206.0,349.7 207.3,349.2 208.5,348.7 209.7,348.2 210.7,347.7 211.7,347.3 212.7,346.8 213.7,346.2 214.9,345.5 216.1,344.7 217.4,343.8 218.6,343.0 219.8,342.2 220.9,341.5 222.1,340.7 223.2,340.0 224.2,339.3 225.2,338.6 226.2,337.9 227.5,337.1 229.1,336.2 230.8,335.2 232.6,334.1 234.4,332.8 236.2,331.2 238.1,329.2 239.7,327.4 240.9,326.2" fill="none" stroke="#f22828" stroke-width="1.6" stroke-linejoin="round" stroke-linecap="round"/>
<line x1="240.90" y1="320.42" x2="240.90" y2="331.98" stroke="#f22828" stroke-width="0.8"/>
<line x1="239.60" y1="320.42" x2="242.20" y2="320.42" stroke="#f22828" stroke-width="0.8"/>
<line x1="239.60" y1="331.98" x2="242.20" y2="331.98" stroke="#f22828" stroke-width="0.8"/>
<circle cx="240.9" cy="326.2" r="1.9" fill="#f22828"/>
<line x1="235.17" y1="326.43" x2="235.17" y2="337.60" stroke="#f22828" stroke-width="0.8"/>
<line x1="233.87" y1="326.43" x2="236.47" y2="326.43" stroke="#f22828" stroke-width="0.8"/>
<line x1="233.87" y1="337.60" x2="236.47" y2="337.60" stroke="#f22828" stroke-width="0.8"/>
<circle cx="235.2" cy="332.0" r="1.9" fill="#f22828"/>
<line x1="229.62" y1="330.39" x2="229.62" y2="341.17" stroke="#f22828" stroke-width="0.8"/>
<line x1="228.32" y1="330.39" x2="230.92" y2="330.39" stroke="#f22828" stroke-width="0.8"/>
<line x1="228.32" y1="341.17" x2="230.92" y2="341.17" stroke="#f22828" stroke-width="0.8"/>
<circle cx="229.6" cy="335.8" r="1.9" fill="#f22828"/>
<line x1="224.23" y1="334.11" x2="224.23" y2="344.50" stroke="#f22828" stroke-width="0.8"/>
<line x1="222.93" y1="334.11" x2="225.53" y2="334.11" stroke="#f22828" stroke-width="0.8"/>
<line x1="222.93" y1="344.50" x2="225.53" y2="344.50" stroke="#f22828" stroke-width="0.8"/>
<circle cx="224.2" cy="339.3" r="1.9" fill="#f22828"/>
<line x1="219.00" y1="337.72" x2="219.00" y2="347.75" stroke="#f22828" stroke-width="0.8"/>
<line x1="217.70" y1="337.72" x2="220.30" y2="337.72" stroke="#f22828" stroke-width="0.8"/>
<line x1="217.70" y1="347.75" x2="220.30" y2="347.75" stroke="#f22828" stroke-width="0.8"/>
<circle cx="219.0" cy="342.7" r="1.9" fill="#f22828"/>
<line x1="213.93" y1="341.21" x2="213.93" y2="350.89" stroke="#f22828" stroke-width="0.8"/>
<line x1="212.63" y1="341.21" x2="215.23" y2="341.21" stroke="#f22828" stroke-width="0.8"/>
<line x1="212.63" y1="350.89" x2="215.23" y2="350.89" stroke="#f22828" stroke-width="0.8"/>
<circle cx="213.9" cy="346.0" r="1.9" fill="#f22828"/>
<line x1="209.01" y1="343.83" x2="209.01" y2="353.16" stroke="#f22828" stroke-width="0.8"/>
<line x1="207.71" y1="343.83" x2="210.31" y2="343.83" stroke="#f22828" stroke-width="0.8"/>
<line x1="207.71" y1="353.16" x2="210.31" y2="353.16" stroke="#f22828" stroke-width="0.8"/>
<circle cx="209.0" cy="348.5" r="1.9" fill="#f22828"/>
<line x1="204.24" y1="346.11" x2="204.24" y2="355.10" stroke="#f22828" stroke-width="0.8"/>
<line x1="202.94" y1="346.11" x2="205.54" y2="346.11" stroke="#f22828" stroke-width="0.8"/>
<line x1="202.94" y1="355.10" x2="205.54" y2="355.10" stroke="#f22828" stroke-width="0.8"/>
<circle cx="204.2" cy="350.6" r="1.9" fill="#f22828"/>
<line x1="199.62" y1="348.82" x2="199.62" y2="357.49" stroke="#f22828" stroke-width="0.8"/>
<line x1="198.32" y1="348.82" x2="200.92" y2="348.82" stroke="#f22828" stroke-width="0.8"/>
<line x1="198.32" y1="357.49" x2="200.92" y2="357.49" stroke="#f22828" stroke-width="0.8"/>
<circle cx="199.6" cy="353.2" r="1.9" fill="#f22828"/>
<line x1="195.13" y1="351.44" x2="195.13" y2="359.80" stroke="#f22828" stroke-width="0.8"/>
<line x1="193.83" y1="351.44" x2="196.43" y2="351.44" stroke="#f22828" stroke-width="0.8"/>
<line x1="193.83" y1="359.80" x2="196.43" y2="359.80" stroke="#f22828" stroke-width="0.8"/>
<circle cx="195.1" cy="355.6" r="1.9" fill="#f22828"/>
<line x1="190.77" y1="353.40" x2="190.77" y2="361.45" stroke="#f22828" stroke-width="0.8"/>
<line x1="189.47" y1="353.40" x2="192.07" y2="353.40" stroke="#f22828" stroke-width="0.8"/>
<line x1="189.47" y1="361.45" x2="192.07" y2="361.45" stroke="#f22828" stroke-width="0.8"/>
<circle cx="190.8" cy="357.4" r="1.9" fill="#f22828"/>
<line x1="186.55" y1="355.25" x2="186.55" y2="363.01" stroke="#f22828" stroke-width="0.8"/>
<line x1="185.25" y1="355.25" x2="187.85" y2="355.25" stroke="#f22828" stroke-width="0.8"/>
<line x1="185.25" y1="363.01" x2="187.85" y2="363.01" stroke="#f22828" stroke-width="0.8"/>
<circle cx="186.6" cy="359.1" r="1.9" fill="#f22828"/>
<line x1="182.45" y1="356.92" x2="182.45" y2="364.40" stroke="#f22828" stroke-width="0.8"/>
<line x1="181.15" y1="356.92" x2="183.75" y2="356.92" stroke="#f22828" stroke-width="0.8"/>
<line x1="181.15" y1="364.40" x2="183.75" y2="364.40" stroke="#f22828" stroke-width="0.8"/>
<circle cx="182.5" cy="360.7" r="1.9" fill="#f22828"/>
<line x1="178.48" y1="358.33" x2="178.48" y2="365.52" stroke="#f22828" stroke-width="0.8"/>
<line x1="177.18" y1="358.33" x2="179.78" y2="358.33" stroke="#f22828" stroke-width="0.8"/>
<line x1="177.18" y1="365.52" x2="179.78" y2="365.52" stroke="#f22828" stroke-width="0.8"/>
<circle cx="178.5" cy="361.9" r="1.9" fill="#f22828"/>
<line x1="174.63" y1="359.69" x2="174.63" y2="366.61" stroke="#f22828" stroke-width="0.8"/>
<line x1="173.33" y1="359.69" x2="175.93" y2="359.69" stroke="#f22828" stroke-width="0.8"/>
<line x1="173.33" y1="366.61" x2="175.93" y2="366.61" stroke="#f22828" stroke-width="0.8"/>
<circle cx="174.6" cy="363.2" r="1.9" fill="#f22828"/>
<line x1="170.89" y1="361.23" x2="170.89" y2="367.89" stroke="#f22828" stroke-width="0.8"/>
<line x1="169.59" y1="361.23" x2="172.19" y2="361.23" stroke="#f22828" stroke-width="0.8"/>
<line x1="169.59" y1="367.89" x2="172.19" y2="367.89" stroke="#f22828" stroke-width="0.8"/>
<circle cx="170.9" cy="364.6" r="1.9" fill="#f22828"/>
<line x1="167.26" y1="362.91" x2="167.26" y2="369.31" stroke="#f22828" stroke-width="0.8"/>
<line x1="165.96" y1="362.91" x2="168.56" y2="362.91" stroke="#f22828" stroke-width="0.8"/>
<line x1="165.96" y1="369.31" x2="168.56" y2="369.31" stroke="#f22828" stroke-width="0.8"/>
<circle cx="167.3" cy="366.1" r="1.9" fill="#f22828"/>
<line x1="163.74" y1="364.53" x2="163.74" y2="370.69" stroke="#f22828" stroke-width="0.8"/>
<line x1="162.44" y1="364.53" x2="165.04" y2="364.53" stroke="#f22828" stroke-width="0.8"/>
<line x1="162.44" y1="370.69" x2="165.04" y2="370.69" stroke="#f22828" stroke-width="0.8"/>
<circle cx="163.7" cy="367.6" r="1.9" fill="#f22828"/>
<line x1="160.33" y1="366.07" x2="160.33" y2="371.99" stroke="#f22828" stroke-width="0.8"/>
<line x1="159.03" y1="366.07" x2="161.63" y2="366.07" stroke="#f22828" stroke-width="0.8"/>
<line x1="159.03" y1="371.99" x2="161.63" y2="371.99" stroke="#f22828" stroke-width="0.8"/>
<circle cx="160.3" cy="369.0" r="1.9" fill="#f22828"/>
<line x1="157.02" y1="367.52" x2="157.02" y2="373.22" stroke="#f22828" stroke-width="0.8"/>
<line x1="155.72" y1="367.52" x2="158.32" y2="367.52" stroke="#f22828" stroke-width="0.8"/>
<line x1="155.72" y1="373.22" x2="158.32" y2="373.22" stroke="#f22828" stroke-width="0.8"/>
<circle cx="157.0" cy="370.4" r="1.6" fill="#f22828"/>
<line x1="153.81" y1="368.93" x2="153.81" y2="374.40" stroke="#f22828" stroke-width="0.8"/>
<line x1="152.51" y1="368.93" x2="155.11" y2="368.93" stroke="#f22828" stroke-width="0.8"/>
<line x1="152.51" y1="374.40" x2="155.11" y2="374.40" stroke="#f22828" stroke-width="0.8"/>
<circle cx="153.8" cy="371.7" r="1.6" fill="#f22828"/>
<line x1="150.70" y1="370.31" x2="150.70" y2="375.55" stroke="#f22828" stroke-width="0.8"/>
<line x1="149.40" y1="370.31" x2="152.00" y2="370.31" stroke="#f22828" stroke-width="0.8"/>
<line x1="149.40" y1="375.55" x2="152.00" y2="375.55" stroke="#f22828" stroke-width="0.8"/>
<circle cx="150.7" cy="372.9" r="1.6" fill="#f22828"/>
<line x1="147.68" y1="371.70" x2="147.68" y2="376.74" stroke="#f22828" stroke-width="0.8"/>
<line x1="146.38" y1="371.70" x2="148.98" y2="371.70" stroke="#f22828" stroke-width="0.8"/>
<line x1="146.38" y1="376.74" x2="148.98" y2="376.74" stroke="#f22828" stroke-width="0.8"/>
<circle cx="147.7" cy="374.2" r="1.6" fill="#f22828"/>
<line x1="144.74" y1="373.06" x2="144.74" y2="377.89" stroke="#f22828" stroke-width="0.8"/>
<line x1="143.44" y1="373.06" x2="146.04" y2="373.06" stroke="#f22828" stroke-width="0.8"/>
<line x1="143.44" y1="377.89" x2="146.04" y2="377.89" stroke="#f22828" stroke-width="0.8"/>
<circle cx="144.7" cy="375.5" r="1.6" fill="#f22828"/>
<line x1="141.90" y1="374.37" x2="141.90" y2="379.00" stroke="#f22828" stroke-width="0.8"/>
<line x1="140.60" y1="374.37" x2="143.20" y2="374.37" stroke="#f22828" stroke-width="0.8"/>
<line x1="140.60" y1="379.00" x2="143.20" y2="379.00" stroke="#f22828" stroke-width="0.8"/>
<circle cx="141.9" cy="376.7" r="1.6" fill="#f22828"/>
<line x1="139.15" y1="375.85" x2="139.15" y2="380.29" stroke="#f22828" stroke-width="0.8"/>
<line x1="137.85" y1="375.85" x2="140.45" y2="375.85" stroke="#f22828" stroke-width="0.8"/>
<line x1="137.85" y1="380.29" x2="140.45" y2="380.29" stroke="#f22828" stroke-width="0.8"/>
<circle cx="139.1" cy="378.1" r="1.6" fill="#f22828"/>
<line x1="136.47" y1="377.73" x2="136.47" y2="381.98" stroke="#f22828" stroke-width="0.8"/>
<line x1="135.17" y1="377.73" x2="137.77" y2="377.73" stroke="#f22828" stroke-width="0.8"/>
<line x1="135.17" y1="381.98" x2="137.77" y2="381.98" stroke="#f22828" stroke-width="0.8"/>
<circle cx="136.5" cy="379.9" r="1.6" fill="#f22828"/>
<line x1="133.88" y1="379.58" x2="133.88" y2="383.66" stroke="#f22828" stroke-width="0.8"/>
<line x1="132.58" y1="379.58" x2="135.18" y2="379.58" stroke="#f22828" stroke-width="0.8"/>
<line x1="132.58" y1="383.66" x2="135.18" y2="383.66" stroke="#f22828" stroke-width="0.8"/>
<circle cx="133.9" cy="381.6" r="1.6" fill="#f22828"/>
<line x1="131.36" y1="382.14" x2="131.36" y2="386.04" stroke="#f22828" stroke-width="0.8"/>
<line x1="130.06" y1="382.14" x2="132.66" y2="382.14" stroke="#f22828" stroke-width="0.8"/>
<line x1="130.06" y1="386.04" x2="132.66" y2="386.04" stroke="#f22828" stroke-width="0.8"/>
<circle cx="131.4" cy="384.1" r="1.6" fill="#f22828"/>
<line x1="128.92" y1="384.62" x2="128.92" y2="388.34" stroke="#f22828" stroke-width="0.8"/>
<line x1="127.62" y1="384.62" x2="130.22" y2="384.62" stroke="#f22828" stroke-width="0.8"/>
<line x1="127.62" y1="388.34" x2="130.22" y2="388.34" stroke="#f22828" stroke-width="0.8"/>
<circle cx="128.9" cy="386.5" r="1.6" fill="#f22828"/>
<line x1="126.55" y1="387.32" x2="126.55" y2="390.88" stroke="#f22828" stroke-width="0.8"/>
<line x1="125.25" y1="387.32" x2="127.85" y2="387.32" stroke="#f22828" stroke-width="0.8"/>
<line x1="125.25" y1="390.88" x2="127.85" y2="390.88" stroke="#f22828" stroke-width="0.8"/>
<circle cx="126.6" cy="389.1" r="1.6" fill="#f22828"/>
<line x1="124.26" y1="389.94" x2="124.26" y2="393.34" stroke="#f22828" stroke-width="0.8"/>
<line x1="122.96" y1="389.94" x2="125.56" y2="389.94" stroke="#f22828" stroke-width="0.8"/>
<line x1="122.96" y1="393.34" x2="125.56" y2="393.34" stroke="#f22828" stroke-width="0.8"/>
<circle cx="124.3" cy="391.6" r="1.6" fill="#f22828"/>
<line x1="122.03" y1="392.67" x2="122.03" y2="395.92" stroke="#f22828" stroke-width="0.8"/>
<line x1="120.73" y1="392.67" x2="123.33" y2="392.67" stroke="#f22828" stroke-width="0.8"/>
<line x1="120.73" y1="395.92" x2="123.33" y2="395.92" stroke="#f22828" stroke-width="0.8"/>
<circle cx="122.0" cy="394.3" r="1.6" fill="#f22828"/>
<line x1="119.87" y1="395.26" x2="119.87" y2="398.35" stroke="#f22828" stroke-width="0.8"/>
<line x1="118.57" y1="395.26" x2="121.17" y2="395.26" stroke="#f22828" stroke-width="0.8"/>
<line x1="118.57" y1="398.35" x2="121.17" y2="398.35" stroke="#f22828" stroke-width="0.8"/>
<circle cx="119.9" cy="396.8" r="1.6" fill="#f22828"/>
<line x1="117.77" y1="397.65" x2="117.77" y2="400.59" stroke="#f22828" stroke-width="0.8"/>
<line x1="116.47" y1="397.65" x2="119.07" y2="397.65" stroke="#f22828" stroke-width="0.8"/>
<line x1="116.47" y1="400.59" x2="119.07" y2="400.59" stroke="#f22828" stroke-width="0.8"/>
<circle cx="117.8" cy="399.1" r="1.6" fill="#f22828"/>
<line x1="115.74" y1="399.96" x2="115.74" y2="402.76" stroke="#f22828" stroke-width="0.8"/>
<line x1="114.44" y1="399.96" x2="117.04" y2="399.96" stroke="#f22828" stroke-width="0.8"/>
<line x1="114.44" y1="402.76" x2="117.04" y2="402.76" stroke="#f22828" stroke-width="0.8"/>
<circle cx="115.7" cy="401.4" r="1.6" fill="#f22828"/>
<line x1="113.77" y1="401.62" x2="113.77" y2="404.28" stroke="#f22828" stroke-width="0.8"/>
<line x1="112.47" y1="401.62" x2="115.07" y2="401.62" stroke="#f22828" stroke-width="0.8"/>
<line x1="112.47" y1="404.28" x2="115.07" y2="404.28" stroke="#f22828" stroke-width="0.8"/>
<circle cx="113.8" cy="402.9" r="1.6" fill="#f22828"/>
<line x1="111.85" y1="403.21" x2="111.85" y2="405.74" stroke="#f22828" stroke-width="0.8"/>
<line x1="110.55" y1="403.21" x2="113.15" y2="403.21" stroke="#f22828" stroke-width="0.8"/>
<line x1="110.55" y1="405.74" x2="113.15" y2="405.74" stroke="#f22828" stroke-width="0.8"/>
<circle cx="111.9" cy="404.5" r="1.6" fill="#f22828"/>
<line x1="110.00" y1="404.76" x2="110.00" y2="407.16" stroke="#f22828" stroke-width="0.8"/>
<line x1="108.70" y1="404.76" x2="111.30" y2="404.76" stroke="#f22828" stroke-width="0.8"/>
<line x1="108.70" y1="407.16" x2="111.30" y2="407.16" stroke="#f22828" stroke-width="0.8"/>
<circle cx="110.0" cy="406.0" r="1.6" fill="#f22828"/>
<line x1="108.20" y1="405.91" x2="108.20" y2="408.31" stroke="#f22828" stroke-width="0.8"/>
<line x1="106.90" y1="405.91" x2="109.50" y2="405.91" stroke="#f22828" stroke-width="0.8"/>
<line x1="106.90" y1="408.31" x2="109.50" y2="408.31" stroke="#f22828" stroke-width="0.8"/>
<circle cx="108.2" cy="407.1" r="1.6" fill="#f22828"/>
<line x1="106.45" y1="406.97" x2="106.45" y2="409.37" stroke="#f22828" stroke-width="0.8"/>
<line x1="105.15" y1="406.97" x2="107.75" y2="406.97" stroke="#f22828" stroke-width="0.8"/>
<line x1="105.15" y1="409.37" x2="107.75" y2="409.37" stroke="#f22828" stroke-width="0.8"/>
<circle cx="106.5" cy="408.2" r="1.6" fill="#f22828"/>
<line x1="104.76" y1="408.00" x2="104.76" y2="410.40" stroke="#f22828" stroke-width="0.8"/>
<line x1="103.46" y1="408.00" x2="106.06" y2="408.00" stroke="#f22828" stroke-width="0.8"/>
<line x1="103.46" y1="410.40" x2="106.06" y2="410.40" stroke="#f22828" stroke-width="0.8"/>
<circle cx="104.8" cy="409.2" r="1.6" fill="#f22828"/>
<line x1="103.12" y1="408.90" x2="103.12" y2="411.30" stroke="#f22828" stroke-width="0.8"/>
<line x1="101.82" y1="408.90" x2="104.42" y2="408.90" stroke="#f22828" stroke-width="0.8"/>
<line x1="101.82" y1="411.30" x2="104.42" y2="411.30" stroke="#f22828" stroke-width="0.8"/>
<circle cx="103.1" cy="410.1" r="1.6" fill="#f22828"/>
<line x1="101.52" y1="409.57" x2="101.52" y2="411.97" stroke="#f22828" stroke-width="0.8"/>
<line x1="100.22" y1="409.57" x2="102.82" y2="409.57" stroke="#f22828" stroke-width="0.8"/>
<line x1="100.22" y1="411.97" x2="102.82" y2="411.97" stroke="#f22828" stroke-width="0.8"/>
<circle cx="101.5" cy="410.8" r="1.6" fill="#f22828"/>
<line x1="99.98" y1="410.21" x2="99.98" y2="412.61" stroke="#f22828" stroke-width="0.8"/>
<line x1="98.68" y1="410.21" x2="101.28" y2="410.21" stroke="#f22828" stroke-width="0.8"/>
<line x1="98.68" y1="412.61" x2="101.28" y2="412.61" stroke="#f22828" stroke-width="0.8"/>
<circle cx="100.0" cy="411.4" r="1.6" fill="#f22828"/>
<line x1="98.48" y1="410.83" x2="98.48" y2="413.23" stroke="#f22828" stroke-width="0.8"/>
<line x1="97.18" y1="410.83" x2="99.78" y2="410.83" stroke="#f22828" stroke-width="0.8"/>
<line x1="97.18" y1="413.23" x2="99.78" y2="413.23" stroke="#f22828" stroke-width="0.8"/>
<circle cx="98.5" cy="412.0" r="1.6" fill="#f22828"/>
<line x1="97.02" y1="411.44" x2="97.02" y2="413.84" stroke="#f22828" stroke-width="0.8"/>
<line x1="95.72" y1="411.44" x2="98.32" y2="411.44" stroke="#f22828" stroke-width="0.8"/>
<line x1="95.72" y1="413.84" x2="98.32" y2="413.84" stroke="#f22828" stroke-width="0.8"/>
<circle cx="97.0" cy="412.6" r="1.6" fill="#f22828"/>
<line x1="95.61" y1="411.96" x2="95.61" y2="414.36" stroke="#f22828" stroke-width="0.8"/>
<line x1="94.31" y1="411.96" x2="96.91" y2="411.96" stroke="#f22828" stroke-width="0.8"/>
<line x1="94.31" y1="414.36" x2="96.91" y2="414.36" stroke="#f22828" stroke-width="0.8"/>
<circle cx="95.6" cy="413.2" r="1.6" fill="#f22828"/>
<line x1="94.24" y1="412.42" x2="94.24" y2="414.82" stroke="#f22828" stroke-width="0.8"/>
<line x1="92.94" y1="412.42" x2="95.54" y2="412.42" stroke="#f22828" stroke-width="0.8"/>
<line x1="92.94" y1="414.82" x2="95.54" y2="414.82" stroke="#f22828" stroke-width="0.8"/>
<circle cx="94.2" cy="413.6" r="1.6" fill="#f22828"/>
<line x1="92.92" y1="412.86" x2="92.92" y2="415.26" stroke="#f22828" stroke-width="0.8"/>
<line x1="91.62" y1="412.86" x2="94.22" y2="412.86" stroke="#f22828" stroke-width="0.8"/>
<line x1="91.62" y1="415.26" x2="94.22" y2="415.26" stroke="#f22828" stroke-width="0.8"/>
<circle cx="92.9" cy="414.1" r="1.6" fill="#f22828"/>
<line x1="91.63" y1="413.29" x2="91.63" y2="415.69" stroke="#f22828" stroke-width="0.8"/>
<line x1="90.33" y1="413.29" x2="92.93" y2="413.29" stroke="#f22828" stroke-width="0.8"/>
<line x1="90.33" y1="415.69" x2="92.93" y2="415.69" stroke="#f22828" stroke-width="0.8"/>
<circle cx="91.6" cy="414.5" r="1.6" fill="#f22828"/>
<line x1="90.38" y1="413.71" x2="90.38" y2="416.11" stroke="#f22828" stroke-width="0.8"/>
<line x1="89.08" y1="413.71" x2="91.68" y2="413.71" stroke="#f22828" stroke-width="0.8"/>
<line x1="89.08" y1="416.11" x2="91.68" y2="416.11" stroke="#f22828" stroke-width="0.8"/>
<circle cx="90.4" cy="414.9" r="1.6" fill="#f22828"/>
<line x1="89.17" y1="414.11" x2="89.17" y2="416.51" stroke="#f22828" stroke-width="0.8"/>
<line x1="87.87" y1="414.11" x2="90.47" y2="414.11" stroke="#f22828" stroke-width="0.8"/>
<line x1="87.87" y1="416.51" x2="90.47" y2="416.51" stroke="#f22828" stroke-width="0.8"/>
<circle cx="89.2" cy="415.3" r="1.6" fill="#f22828"/>
<line x1="87.97" y1="414.45" x2="87.97" y2="416.85" stroke="#f22828" stroke-width="0.8"/>
<line x1="86.67" y1="414.45" x2="89.27" y2="414.45" stroke="#f22828" stroke-width="0.8"/>
<line x1="86.67" y1="416.85" x2="89.27" y2="416.85" stroke="#f22828" stroke-width="0.8"/>
<circle cx="88.0" cy="415.6" r="1.6" fill="#f22828"/>
<line x1="86.77" y1="414.79" x2="86.77" y2="417.19" stroke="#f22828" stroke-width="0.8"/>
<line x1="85.47" y1="414.79" x2="88.07" y2="414.79" stroke="#f22828" stroke-width="0.8"/>
<line x1="85.47" y1="417.19" x2="88.07" y2="417.19" stroke="#f22828" stroke-width="0.8"/>
<circle cx="86.8" cy="416.0" r="1.6" fill="#f22828"/>
<line x1="85.57" y1="415.13" x2="85.57" y2="417.53" stroke="#f22828" stroke-width="0.8"/>
<line x1="84.27" y1="415.13" x2="86.87" y2="415.13" stroke="#f22828" stroke-width="0.8"/>
<line x1="84.27" y1="417.53" x2="86.87" y2="417.53" stroke="#f22828" stroke-width="0.8"/>
<circle cx="85.6" cy="416.3" r="1.6" fill="#f22828"/>
<line x1="84.37" y1="415.46" x2="84.37" y2="417.86" stroke="#f22828" stroke-width="0.8"/>
<line x1="83.07" y1="415.46" x2="85.67" y2="415.46" stroke="#f22828" stroke-width="0.8"/>
<line x1="83.07" y1="417.86" x2="85.67" y2="417.86" stroke="#f22828" stroke-width="0.8"/>
<circle cx="84.4" cy="416.7" r="1.6" fill="#f22828"/>
<line x1="83.17" y1="415.80" x2="83.17" y2="418.20" stroke="#f22828" stroke-width="0.8"/>
<line x1="81.87" y1="415.80" x2="84.47" y2="415.80" stroke="#f22828" stroke-width="0.8"/>
<line x1="81.87" y1="418.20" x2="84.47" y2="418.20" stroke="#f22828" stroke-width="0.8"/>
<circle cx="83.2" cy="417.0" r="1.6" fill="#f22828"/>
<line x1="81.97" y1="416.14" x2="81.97" y2="418.54" stroke="#f22828" stroke-width="0.8"/>
<line x1="80.67" y1="416.14" x2="83.27" y2="416.14" stroke="#f22828" stroke-width="0.8"/>
<line x1="80.67" y1="418.54" x2="83.27" y2="418.54" stroke="#f22828" stroke-width="0.8"/>
<circle cx="82.0" cy="417.3" r="1.6" fill="#f22828"/>
<line x1="80.77" y1="416.48" x2="80.77" y2="418.88" stroke="#f22828" stroke-width="0.8"/>
<line x1="79.47" y1="416.48" x2="82.07" y2="416.48" stroke="#f22828" stroke-width="0.8"/>
<line x1="79.47" y1="418.88" x2="82.07" y2="418.88" stroke="#f22828" stroke-width="0.8"/>
<circle cx="80.8" cy="417.7" r="1.6" fill="#f22828"/>
<line x1="79.57" y1="416.84" x2="79.57" y2="419.24" stroke="#f22828" stroke-width="0.8"/>
<line x1="78.27" y1="416.84" x2="80.87" y2="416.84" stroke="#f22828" stroke-width="0.8"/>
<line x1="78.27" y1="419.24" x2="80.87" y2="419.24" stroke="#f22828" stroke-width="0.8"/>
<circle cx="79.6" cy="418.0" r="1.6" fill="#f22828"/>
<line x1="78.37" y1="417.20" x2="78.37" y2="419.60" stroke="#f22828" stroke-width="0.8"/>
<line x1="77.07" y1="417.20" x2="79.67" y2="417.20" stroke="#f22828" stroke-width="0.8"/>
<line x1="77.07" y1="419.60" x2="79.67" y2="419.60" stroke="#f22828" stroke-width="0.8"/>
<circle cx="78.4" cy="418.4" r="1.6" fill="#f22828"/>
<line x1="77.17" y1="417.56" x2="77.17" y2="419.96" stroke="#f22828" stroke-width="0.8"/>
<line x1="75.87" y1="417.56" x2="78.47" y2="417.56" stroke="#f22828" stroke-width="0.8"/>
<line x1="75.87" y1="419.96" x2="78.47" y2="419.96" stroke="#f22828" stroke-width="0.8"/>
<circle cx="77.2" cy="418.8" r="1.6" fill="#f22828"/>
<polyline points="74.4,417.5 75.5,416.9 77.2,416.1 79.0,415.1 80.7,414.2 82.2,413.3 83.7,412.4 85.2,411.5 86.7,410.5 88.2,409.5 89.7,408.6 91.3,407.6 92.8,406.5 94.3,405.3 95.8,404.1 97.3,402.8 98.8,401.5 100.3,400.0 101.9,398.5 103.4,396.9 104.9,395.5 106.2,394.3 107.4,393.4 108.6,392.3 110.0,390.9 111.7,388.9 113.5,386.6 115.4,384.3 117.3,382.2 119.1,380.5 120.9,379.0 122.7,377.7 124.5,376.4 126.3,375.2 128.1,374.1 129.9,373.0 131.8,372.0 133.7,371.1 135.7,370.3 137.7,369.5 140.0,368.5 142.6,367.3 145.3,365.9 148.2,364.4 151.0,362.9 153.7,361.4 156.4,359.8 159.2,358.3" fill="none" stroke="#0c96ee" stroke-width="3.6" stroke-linejoin="round" stroke-linecap="round"/>
<polyline points="151.0,362.9 153.7,361.4 156.4,359.8 159.2,358.3 161.9,356.9 164.6,355.7 167.4,354.5 170.1,353.5 172.9,352.5 175.7,351.6 178.4,350.7 181.2,349.9 183.9,349.0 186.8,348.0 189.7,346.9 192.5,345.8 194.8,344.8 196.4,344.0 197.5,343.2 198.5,342.5 200.0,341.5 202.2,340.3 204.7,338.9 207.4,337.5 210.0,336.0 212.5,334.5 215.0,333.1 217.5,331.5 220.0,330.0 222.6,328.4 225.2,326.8 227.7,325.2 230.0,323.5 232.1,321.7 234.0,319.8 235.8,318.0 237.4,316.4 238.9,315.1 240.3,314.0 241.5,313.0 242.3,312.4" fill="none" stroke="#0c96ee" stroke-width="2.4" stroke-linejoin="round" stroke-linecap="round"/>
<line x1="242.30" y1="307.10" x2="242.30" y2="317.70" stroke="#0c96ee" stroke-width="0.9"/>
<line x1="241.10" y1="307.10" x2="243.50" y2="307.10" stroke="#0c96ee" stroke-width="0.9"/>
<line x1="241.10" y1="317.70" x2="243.50" y2="317.70" stroke="#0c96ee" stroke-width="0.9"/>
<rect x="241.0" y="311.1" width="2.6" height="2.6" fill="#0c96ee"/>
<line x1="238.92" y1="309.95" x2="238.92" y2="320.37" stroke="#0c96ee" stroke-width="0.9"/>
<line x1="237.72" y1="309.95" x2="240.12" y2="309.95" stroke="#0c96ee" stroke-width="0.9"/>
<line x1="237.72" y1="320.37" x2="240.12" y2="320.37" stroke="#0c96ee" stroke-width="0.9"/>
<rect x="237.6" y="313.9" width="2.6" height="2.6" fill="#0c96ee"/>
<line x1="235.58" y1="313.03" x2="235.58" y2="323.26" stroke="#0c96ee" stroke-width="0.9"/>
<line x1="234.38" y1="313.03" x2="236.78" y2="313.03" stroke="#0c96ee" stroke-width="0.9"/>
<line x1="234.38" y1="323.26" x2="236.78" y2="323.26" stroke="#0c96ee" stroke-width="0.9"/>
<rect x="234.3" y="316.8" width="2.6" height="2.6" fill="#0c96ee"/>
<line x1="232.30" y1="316.27" x2="232.30" y2="326.32" stroke="#0c96ee" stroke-width="0.9"/>
<line x1="231.10" y1="316.27" x2="233.50" y2="316.27" stroke="#0c96ee" stroke-width="0.9"/>
<line x1="231.10" y1="326.32" x2="233.50" y2="326.32" stroke="#0c96ee" stroke-width="0.9"/>
<rect x="231.0" y="320.0" width="2.6" height="2.6" fill="#0c96ee"/>
<line x1="229.06" y1="319.17" x2="229.06" y2="329.04" stroke="#0c96ee" stroke-width="0.9"/>
<line x1="227.86" y1="319.17" x2="230.26" y2="319.17" stroke="#0c96ee" stroke-width="0.9"/>
<line x1="227.86" y1="329.04" x2="230.26" y2="329.04" stroke="#0c96ee" stroke-width="0.9"/>
<rect x="227.8" y="322.8" width="2.6" height="2.6" fill="#0c96ee"/>
<line x1="225.88" y1="321.33" x2="225.88" y2="331.02" stroke="#0c96ee" stroke-width="0.9"/>
<line x1="224.68" y1="321.33" x2="227.08" y2="321.33" stroke="#0c96ee" stroke-width="0.9"/>
<line x1="224.68" y1="331.02" x2="227.08" y2="331.02" stroke="#0c96ee" stroke-width="0.9"/>
<rect x="224.6" y="324.9" width="2.6" height="2.6" fill="#0c96ee"/>
<line x1="222.74" y1="323.46" x2="222.74" y2="332.98" stroke="#0c96ee" stroke-width="0.9"/>
<line x1="221.54" y1="323.46" x2="223.94" y2="323.46" stroke="#0c96ee" stroke-width="0.9"/>
<line x1="221.54" y1="332.98" x2="223.94" y2="332.98" stroke="#0c96ee" stroke-width="0.9"/>
<rect x="221.4" y="326.9" width="2.6" height="2.6" fill="#0c96ee"/>
<line x1="219.65" y1="325.54" x2="219.65" y2="334.88" stroke="#0c96ee" stroke-width="0.9"/>
<line x1="218.45" y1="325.54" x2="220.85" y2="325.54" stroke="#0c96ee" stroke-width="0.9"/>
<line x1="218.45" y1="334.88" x2="220.85" y2="334.88" stroke="#0c96ee" stroke-width="0.9"/>
<rect x="218.3" y="328.9" width="2.6" height="2.6" fill="#0c96ee"/>
<line x1="216.60" y1="327.45" x2="216.60" y2="336.62" stroke="#0c96ee" stroke-width="0.9"/>
<line x1="215.40" y1="327.45" x2="217.80" y2="327.45" stroke="#0c96ee" stroke-width="0.9"/>
<line x1="215.40" y1="336.62" x2="217.80" y2="336.62" stroke="#0c96ee" stroke-width="0.9"/>
<rect x="215.3" y="330.7" width="2.6" height="2.6" fill="#0c96ee"/>
<line x1="213.60" y1="329.34" x2="213.60" y2="338.34" stroke="#0c96ee" stroke-width="0.9"/>
<line x1="212.40" y1="329.34" x2="214.80" y2="329.34" stroke="#0c96ee" stroke-width="0.9"/>
<line x1="212.40" y1="338.34" x2="214.80" y2="338.34" stroke="#0c96ee" stroke-width="0.9"/>
<rect x="212.3" y="332.5" width="2.6" height="2.6" fill="#0c96ee"/>
<line x1="210.65" y1="331.19" x2="210.65" y2="340.03" stroke="#0c96ee" stroke-width="0.9"/>
<line x1="209.45" y1="331.19" x2="211.85" y2="331.19" stroke="#0c96ee" stroke-width="0.9"/>
<line x1="209.45" y1="340.03" x2="211.85" y2="340.03" stroke="#0c96ee" stroke-width="0.9"/>
<rect x="209.4" y="334.3" width="2.6" height="2.6" fill="#0c96ee"/>
<line x1="207.74" y1="332.91" x2="207.74" y2="341.58" stroke="#0c96ee" stroke-width="0.9"/>
<line x1="206.54" y1="332.91" x2="208.94" y2="332.91" stroke="#0c96ee" stroke-width="0.9"/>
<line x1="206.54" y1="341.58" x2="208.94" y2="341.58" stroke="#0c96ee" stroke-width="0.9"/>
<rect x="206.4" y="335.9" width="2.6" height="2.6" fill="#0c96ee"/>
<line x1="204.87" y1="334.56" x2="204.87" y2="343.08" stroke="#0c96ee" stroke-width="0.9"/>
<line x1="203.67" y1="334.56" x2="206.07" y2="334.56" stroke="#0c96ee" stroke-width="0.9"/>
<line x1="203.67" y1="343.08" x2="206.07" y2="343.08" stroke="#0c96ee" stroke-width="0.9"/>
<rect x="203.6" y="337.5" width="2.6" height="2.6" fill="#0c96ee"/>
<line x1="202.05" y1="336.19" x2="202.05" y2="344.55" stroke="#0c96ee" stroke-width="0.9"/>
<line x1="200.85" y1="336.19" x2="203.25" y2="336.19" stroke="#0c96ee" stroke-width="0.9"/>
<line x1="200.85" y1="344.55" x2="203.25" y2="344.55" stroke="#0c96ee" stroke-width="0.9"/>
<rect x="200.8" y="339.1" width="2.6" height="2.6" fill="#0c96ee"/>
<line x1="199.27" y1="337.86" x2="199.27" y2="346.06" stroke="#0c96ee" stroke-width="0.9"/>
<line x1="198.07" y1="337.86" x2="200.47" y2="337.86" stroke="#0c96ee" stroke-width="0.9"/>
<line x1="198.07" y1="346.06" x2="200.47" y2="346.06" stroke="#0c96ee" stroke-width="0.9"/>
<rect x="198.0" y="340.7" width="2.6" height="2.6" fill="#0c96ee"/>
<line x1="196.53" y1="339.68" x2="196.53" y2="347.72" stroke="#0c96ee" stroke-width="0.9"/>
<line x1="195.33" y1="339.68" x2="197.73" y2="339.68" stroke="#0c96ee" stroke-width="0.9"/>
<line x1="195.33" y1="347.72" x2="197.73" y2="347.72" stroke="#0c96ee" stroke-width="0.9"/>
<rect x="195.2" y="342.4" width="2.6" height="2.6" fill="#0c96ee"/>
<line x1="193.83" y1="341.22" x2="193.83" y2="349.12" stroke="#0c96ee" stroke-width="0.9"/>
<line x1="192.63" y1="341.22" x2="195.03" y2="341.22" stroke="#0c96ee" stroke-width="0.9"/>
<line x1="192.63" y1="349.12" x2="195.03" y2="349.12" stroke="#0c96ee" stroke-width="0.9"/>
<rect x="192.5" y="343.9" width="2.6" height="2.6" fill="#0c96ee"/>
<line x1="191.18" y1="342.32" x2="191.18" y2="350.07" stroke="#0c96ee" stroke-width="0.9"/>
<line x1="189.98" y1="342.32" x2="192.38" y2="342.32" stroke="#0c96ee" stroke-width="0.9"/>
<line x1="189.98" y1="350.07" x2="192.38" y2="350.07" stroke="#0c96ee" stroke-width="0.9"/>
<rect x="189.9" y="344.9" width="2.6" height="2.6" fill="#0c96ee"/>
<line x1="188.56" y1="343.41" x2="188.56" y2="351.00" stroke="#0c96ee" stroke-width="0.9"/>
<line x1="187.36" y1="343.41" x2="189.76" y2="343.41" stroke="#0c96ee" stroke-width="0.9"/>
<line x1="187.36" y1="351.00" x2="189.76" y2="351.00" stroke="#0c96ee" stroke-width="0.9"/>
<rect x="187.3" y="345.9" width="2.6" height="2.6" fill="#0c96ee"/>
<line x1="185.98" y1="344.47" x2="185.98" y2="351.93" stroke="#0c96ee" stroke-width="0.9"/>
<line x1="184.78" y1="344.47" x2="187.18" y2="344.47" stroke="#0c96ee" stroke-width="0.9"/>
<line x1="184.78" y1="351.93" x2="187.18" y2="351.93" stroke="#0c96ee" stroke-width="0.9"/>
<rect x="184.7" y="346.9" width="2.6" height="2.6" fill="#0c96ee"/>
<line x1="183.44" y1="345.49" x2="183.44" y2="352.80" stroke="#0c96ee" stroke-width="0.9"/>
<line x1="182.24" y1="345.49" x2="184.64" y2="345.49" stroke="#0c96ee" stroke-width="0.9"/>
<line x1="182.24" y1="352.80" x2="184.64" y2="352.80" stroke="#0c96ee" stroke-width="0.9"/>
<rect x="182.1" y="347.8" width="2.6" height="2.6" fill="#0c96ee"/>
<line x1="180.94" y1="346.36" x2="180.94" y2="353.53" stroke="#0c96ee" stroke-width="0.9"/>
<line x1="179.74" y1="346.36" x2="182.14" y2="346.36" stroke="#0c96ee" stroke-width="0.9"/>
<line x1="179.74" y1="353.53" x2="182.14" y2="353.53" stroke="#0c96ee" stroke-width="0.9"/>
<rect x="179.6" y="348.6" width="2.6" height="2.6" fill="#0c96ee"/>
<line x1="178.47" y1="347.21" x2="178.47" y2="354.24" stroke="#0c96ee" stroke-width="0.9"/>
<line x1="177.27" y1="347.21" x2="179.67" y2="347.21" stroke="#0c96ee" stroke-width="0.9"/>
<line x1="177.27" y1="354.24" x2="179.67" y2="354.24" stroke="#0c96ee" stroke-width="0.9"/>
<rect x="177.2" y="349.4" width="2.6" height="2.6" fill="#0c96ee"/>
<line x1="176.05" y1="348.05" x2="176.05" y2="354.95" stroke="#0c96ee" stroke-width="0.9"/>
<line x1="174.85" y1="348.05" x2="177.25" y2="348.05" stroke="#0c96ee" stroke-width="0.9"/>
<line x1="174.85" y1="354.95" x2="177.25" y2="354.95" stroke="#0c96ee" stroke-width="0.9"/>
<rect x="174.7" y="350.2" width="2.6" height="2.6" fill="#0c96ee"/>
<line x1="173.66" y1="348.88" x2="173.66" y2="355.64" stroke="#0c96ee" stroke-width="0.9"/>
<line x1="172.46" y1="348.88" x2="174.86" y2="348.88" stroke="#0c96ee" stroke-width="0.9"/>
<line x1="172.46" y1="355.64" x2="174.86" y2="355.64" stroke="#0c96ee" stroke-width="0.9"/>
<rect x="172.4" y="351.0" width="2.6" height="2.6" fill="#0c96ee"/>
<line x1="171.30" y1="349.82" x2="171.30" y2="356.46" stroke="#0c96ee" stroke-width="0.9"/>
<line x1="170.10" y1="349.82" x2="172.50" y2="349.82" stroke="#0c96ee" stroke-width="0.9"/>
<line x1="170.10" y1="356.46" x2="172.50" y2="356.46" stroke="#0c96ee" stroke-width="0.9"/>
<rect x="170.0" y="351.8" width="2.6" height="2.6" fill="#0c96ee"/>
<line x1="168.98" y1="350.82" x2="168.98" y2="357.32" stroke="#0c96ee" stroke-width="0.9"/>
<line x1="167.78" y1="350.82" x2="170.18" y2="350.82" stroke="#0c96ee" stroke-width="0.9"/>
<line x1="167.78" y1="357.32" x2="170.18" y2="357.32" stroke="#0c96ee" stroke-width="0.9"/>
<rect x="167.7" y="352.8" width="2.6" height="2.6" fill="#0c96ee"/>
<line x1="166.70" y1="351.79" x2="166.70" y2="358.17" stroke="#0c96ee" stroke-width="0.9"/>
<line x1="165.50" y1="351.79" x2="167.90" y2="351.79" stroke="#0c96ee" stroke-width="0.9"/>
<line x1="165.50" y1="358.17" x2="167.90" y2="358.17" stroke="#0c96ee" stroke-width="0.9"/>
<rect x="165.4" y="353.7" width="2.6" height="2.6" fill="#0c96ee"/>
<line x1="164.45" y1="352.76" x2="164.45" y2="359.01" stroke="#0c96ee" stroke-width="0.9"/>
<line x1="163.25" y1="352.76" x2="165.65" y2="352.76" stroke="#0c96ee" stroke-width="0.9"/>
<line x1="163.25" y1="359.01" x2="165.65" y2="359.01" stroke="#0c96ee" stroke-width="0.9"/>
<rect x="163.1" y="354.6" width="2.6" height="2.6" fill="#0c96ee"/>
<line x1="162.23" y1="353.71" x2="162.23" y2="359.83" stroke="#0c96ee" stroke-width="0.9"/>
<line x1="161.03" y1="353.71" x2="163.43" y2="353.71" stroke="#0c96ee" stroke-width="0.9"/>
<line x1="161.03" y1="359.83" x2="163.43" y2="359.83" stroke="#0c96ee" stroke-width="0.9"/>
<rect x="160.9" y="355.5" width="2.6" height="2.6" fill="#0c96ee"/>
<line x1="160.05" y1="354.92" x2="160.05" y2="360.92" stroke="#0c96ee" stroke-width="0.9"/>
<line x1="158.85" y1="354.92" x2="161.25" y2="354.92" stroke="#0c96ee" stroke-width="0.9"/>
<line x1="158.85" y1="360.92" x2="161.25" y2="360.92" stroke="#0c96ee" stroke-width="0.9"/>
<rect x="158.7" y="356.6" width="2.6" height="2.6" fill="#0c96ee"/>
<line x1="157.90" y1="356.16" x2="157.90" y2="362.04" stroke="#0c96ee" stroke-width="0.9"/>
<line x1="156.70" y1="356.16" x2="159.10" y2="356.16" stroke="#0c96ee" stroke-width="0.9"/>
<line x1="156.70" y1="362.04" x2="159.10" y2="362.04" stroke="#0c96ee" stroke-width="0.9"/>
<rect x="156.6" y="357.8" width="2.6" height="2.6" fill="#0c96ee"/>
<line x1="155.78" y1="357.39" x2="155.78" y2="363.15" stroke="#0c96ee" stroke-width="0.9"/>
<line x1="154.58" y1="357.39" x2="156.98" y2="357.39" stroke="#0c96ee" stroke-width="0.9"/>
<line x1="154.58" y1="363.15" x2="156.98" y2="363.15" stroke="#0c96ee" stroke-width="0.9"/>
<rect x="154.5" y="359.0" width="2.6" height="2.6" fill="#0c96ee"/>
<line x1="153.69" y1="358.60" x2="153.69" y2="364.24" stroke="#0c96ee" stroke-width="0.9"/>
<line x1="152.49" y1="358.60" x2="154.89" y2="358.60" stroke="#0c96ee" stroke-width="0.9"/>
<line x1="152.49" y1="364.24" x2="154.89" y2="364.24" stroke="#0c96ee" stroke-width="0.9"/>
<rect x="152.4" y="360.1" width="2.6" height="2.6" fill="#0c96ee"/>
<line x1="151.64" y1="359.78" x2="151.64" y2="365.32" stroke="#0c96ee" stroke-width="0.9"/>
<line x1="150.44" y1="359.78" x2="152.84" y2="359.78" stroke="#0c96ee" stroke-width="0.9"/>
<line x1="150.44" y1="365.32" x2="152.84" y2="365.32" stroke="#0c96ee" stroke-width="0.9"/>
<rect x="150.3" y="361.2" width="2.6" height="2.6" fill="#0c96ee"/>
<line x1="149.61" y1="360.90" x2="149.61" y2="366.32" stroke="#0c96ee" stroke-width="0.9"/>
<line x1="148.41" y1="360.90" x2="150.81" y2="360.90" stroke="#0c96ee" stroke-width="0.9"/>
<line x1="148.41" y1="366.32" x2="150.81" y2="366.32" stroke="#0c96ee" stroke-width="0.9"/>
<rect x="148.3" y="362.3" width="2.6" height="2.6" fill="#0c96ee"/>
<line x1="147.62" y1="361.97" x2="147.62" y2="367.28" stroke="#0c96ee" stroke-width="0.9"/>
<line x1="146.42" y1="361.97" x2="148.82" y2="361.97" stroke="#0c96ee" stroke-width="0.9"/>
<line x1="146.42" y1="367.28" x2="148.82" y2="367.28" stroke="#0c96ee" stroke-width="0.9"/>
<rect x="146.3" y="363.3" width="2.6" height="2.6" fill="#0c96ee"/>
<line x1="145.65" y1="363.02" x2="145.65" y2="368.22" stroke="#0c96ee" stroke-width="0.9"/>
<line x1="144.45" y1="363.02" x2="146.85" y2="363.02" stroke="#0c96ee" stroke-width="0.9"/>
<line x1="144.45" y1="368.22" x2="146.85" y2="368.22" stroke="#0c96ee" stroke-width="0.9"/>
<rect x="144.4" y="364.3" width="2.6" height="2.6" fill="#0c96ee"/>
<line x1="143.72" y1="364.06" x2="143.72" y2="369.15" stroke="#0c96ee" stroke-width="0.9"/>
<line x1="142.52" y1="364.06" x2="144.92" y2="364.06" stroke="#0c96ee" stroke-width="0.9"/>
<line x1="142.52" y1="369.15" x2="144.92" y2="369.15" stroke="#0c96ee" stroke-width="0.9"/>
<rect x="142.4" y="365.3" width="2.6" height="2.6" fill="#0c96ee"/>
<line x1="141.81" y1="365.09" x2="141.81" y2="370.07" stroke="#0c96ee" stroke-width="0.9"/>
<line x1="140.61" y1="365.09" x2="143.01" y2="365.09" stroke="#0c96ee" stroke-width="0.9"/>
<line x1="140.61" y1="370.07" x2="143.01" y2="370.07" stroke="#0c96ee" stroke-width="0.9"/>
<rect x="140.5" y="366.3" width="2.6" height="2.6" fill="#0c96ee"/>
<line x1="139.94" y1="366.09" x2="139.94" y2="370.97" stroke="#0c96ee" stroke-width="0.9"/>
<line x1="138.74" y1="366.09" x2="141.14" y2="366.09" stroke="#0c96ee" stroke-width="0.9"/>
<line x1="138.74" y1="370.97" x2="141.14" y2="370.97" stroke="#0c96ee" stroke-width="0.9"/>
<rect x="138.6" y="367.2" width="2.6" height="2.6" fill="#0c96ee"/>
<line x1="138.09" y1="366.93" x2="138.09" y2="371.70" stroke="#0c96ee" stroke-width="0.9"/>
<line x1="136.89" y1="366.93" x2="139.29" y2="366.93" stroke="#0c96ee" stroke-width="0.9"/>
<line x1="136.89" y1="371.70" x2="139.29" y2="371.70" stroke="#0c96ee" stroke-width="0.9"/>
<rect x="136.8" y="368.0" width="2.6" height="2.6" fill="#0c96ee"/>
<line x1="136.26" y1="367.76" x2="136.26" y2="372.43" stroke="#0c96ee" stroke-width="0.9"/>
<line x1="135.06" y1="367.76" x2="137.46" y2="367.76" stroke="#0c96ee" stroke-width="0.9"/>
<line x1="135.06" y1="372.43" x2="137.46" y2="372.43" stroke="#0c96ee" stroke-width="0.9"/>
<rect x="135.0" y="368.8" width="2.6" height="2.6" fill="#0c96ee"/>
<line x1="134.47" y1="368.57" x2="134.47" y2="373.15" stroke="#0c96ee" stroke-width="0.9"/>
<line x1="133.27" y1="368.57" x2="135.67" y2="368.57" stroke="#0c96ee" stroke-width="0.9"/>
<line x1="133.27" y1="373.15" x2="135.67" y2="373.15" stroke="#0c96ee" stroke-width="0.9"/>
<rect x="133.2" y="369.6" width="2.6" height="2.6" fill="#0c96ee"/>
<line x1="132.70" y1="369.38" x2="132.70" y2="373.85" stroke="#0c96ee" stroke-width="0.9"/>
<line x1="131.50" y1="369.38" x2="133.90" y2="369.38" stroke="#0c96ee" stroke-width="0.9"/>
<line x1="131.50" y1="373.85" x2="133.90" y2="373.85" stroke="#0c96ee" stroke-width="0.9"/>
<rect x="131.4" y="370.3" width="2.6" height="2.6" fill="#0c96ee"/>
<line x1="130.96" y1="370.32" x2="130.96" y2="374.69" stroke="#0c96ee" stroke-width="0.9"/>
<line x1="129.76" y1="370.32" x2="132.16" y2="370.32" stroke="#0c96ee" stroke-width="0.9"/>
<line x1="129.76" y1="374.69" x2="132.16" y2="374.69" stroke="#0c96ee" stroke-width="0.9"/>
<rect x="129.7" y="371.2" width="2.6" height="2.6" fill="#0c96ee"/>
<line x1="129.25" y1="371.40" x2="129.25" y2="375.68" stroke="#0c96ee" stroke-width="0.9"/>
<line x1="128.05" y1="371.40" x2="130.45" y2="371.40" stroke="#0c96ee" stroke-width="0.9"/>
<line x1="128.05" y1="375.68" x2="130.45" y2="375.68" stroke="#0c96ee" stroke-width="0.9"/>
<rect x="127.9" y="372.2" width="2.6" height="2.6" fill="#0c96ee"/>
<line x1="127.56" y1="372.46" x2="127.56" y2="376.65" stroke="#0c96ee" stroke-width="0.9"/>
<line x1="126.36" y1="372.46" x2="128.76" y2="372.46" stroke="#0c96ee" stroke-width="0.9"/>
<line x1="126.36" y1="376.65" x2="128.76" y2="376.65" stroke="#0c96ee" stroke-width="0.9"/>
<rect x="126.3" y="373.3" width="2.6" height="2.6" fill="#0c96ee"/>
<line x1="125.90" y1="373.51" x2="125.90" y2="377.60" stroke="#0c96ee" stroke-width="0.9"/>
<line x1="124.70" y1="373.51" x2="127.10" y2="373.51" stroke="#0c96ee" stroke-width="0.9"/>
<line x1="124.70" y1="377.60" x2="127.10" y2="377.60" stroke="#0c96ee" stroke-width="0.9"/>
<rect x="124.6" y="374.3" width="2.6" height="2.6" fill="#0c96ee"/>
<line x1="124.26" y1="374.60" x2="124.26" y2="378.59" stroke="#0c96ee" stroke-width="0.9"/>
<line x1="123.06" y1="374.60" x2="125.46" y2="374.60" stroke="#0c96ee" stroke-width="0.9"/>
<line x1="123.06" y1="378.59" x2="125.46" y2="378.59" stroke="#0c96ee" stroke-width="0.9"/>
<rect x="123.0" y="375.3" width="2.6" height="2.6" fill="#0c96ee"/>
<line x1="122.64" y1="375.94" x2="122.64" y2="379.85" stroke="#0c96ee" stroke-width="0.9"/>
<line x1="121.44" y1="375.94" x2="123.84" y2="375.94" stroke="#0c96ee" stroke-width="0.9"/>
<line x1="121.44" y1="379.85" x2="123.84" y2="379.85" stroke="#0c96ee" stroke-width="0.9"/>
<rect x="121.3" y="376.6" width="2.6" height="2.6" fill="#0c96ee"/>
<line x1="121.05" y1="377.27" x2="121.05" y2="381.08" stroke="#0c96ee" stroke-width="0.9"/>
<line x1="119.85" y1="377.27" x2="122.25" y2="377.27" stroke="#0c96ee" stroke-width="0.9"/>
<line x1="119.85" y1="381.08" x2="122.25" y2="381.08" stroke="#0c96ee" stroke-width="0.9"/>
<rect x="119.8" y="377.9" width="2.6" height="2.6" fill="#0c96ee"/>
<line x1="119.49" y1="378.57" x2="119.49" y2="382.30" stroke="#0c96ee" stroke-width="0.9"/>
<line x1="118.29" y1="378.57" x2="120.69" y2="378.57" stroke="#0c96ee" stroke-width="0.9"/>
<line x1="118.29" y1="382.30" x2="120.69" y2="382.30" stroke="#0c96ee" stroke-width="0.9"/>
<rect x="118.2" y="379.1" width="2.6" height="2.6" fill="#0c96ee"/>
<line x1="117.95" y1="379.86" x2="117.95" y2="383.50" stroke="#0c96ee" stroke-width="0.9"/>
<line x1="116.75" y1="379.86" x2="119.15" y2="379.86" stroke="#0c96ee" stroke-width="0.9"/>
<line x1="116.75" y1="383.50" x2="119.15" y2="383.50" stroke="#0c96ee" stroke-width="0.9"/>
<rect x="116.6" y="380.4" width="2.6" height="2.6" fill="#0c96ee"/>
<line x1="116.43" y1="381.46" x2="116.43" y2="385.02" stroke="#0c96ee" stroke-width="0.9"/>
<line x1="115.23" y1="381.46" x2="117.63" y2="381.46" stroke="#0c96ee" stroke-width="0.9"/>
<line x1="115.23" y1="385.02" x2="117.63" y2="385.02" stroke="#0c96ee" stroke-width="0.9"/>
<rect x="115.1" y="381.9" width="2.6" height="2.6" fill="#0c96ee"/>
<line x1="114.93" y1="383.29" x2="114.93" y2="386.76" stroke="#0c96ee" stroke-width="0.9"/>
<line x1="113.73" y1="383.29" x2="116.13" y2="383.29" stroke="#0c96ee" stroke-width="0.9"/>
<line x1="113.73" y1="386.76" x2="116.13" y2="386.76" stroke="#0c96ee" stroke-width="0.9"/>
<rect x="113.6" y="383.7" width="2.6" height="2.6" fill="#0c96ee"/>
<line x1="113.46" y1="385.08" x2="113.46" y2="388.48" stroke="#0c96ee" stroke-width="0.9"/>
<line x1="112.26" y1="385.08" x2="114.66" y2="385.08" stroke="#0c96ee" stroke-width="0.9"/>
<line x1="112.26" y1="388.48" x2="114.66" y2="388.48" stroke="#0c96ee" stroke-width="0.9"/>
<rect x="112.2" y="385.5" width="2.6" height="2.6" fill="#0c96ee"/>
<line x1="112.01" y1="386.85" x2="112.01" y2="390.17" stroke="#0c96ee" stroke-width="0.9"/>
<line x1="110.81" y1="386.85" x2="113.21" y2="386.85" stroke="#0c96ee" stroke-width="0.9"/>
<line x1="110.81" y1="390.17" x2="113.21" y2="390.17" stroke="#0c96ee" stroke-width="0.9"/>
<rect x="110.7" y="387.2" width="2.6" height="2.6" fill="#0c96ee"/>
<line x1="110.58" y1="388.60" x2="110.58" y2="391.83" stroke="#0c96ee" stroke-width="0.9"/>
<line x1="109.38" y1="388.60" x2="111.78" y2="388.60" stroke="#0c96ee" stroke-width="0.9"/>
<line x1="109.38" y1="391.83" x2="111.78" y2="391.83" stroke="#0c96ee" stroke-width="0.9"/>
<rect x="109.3" y="388.9" width="2.6" height="2.6" fill="#0c96ee"/>
<line x1="109.17" y1="390.05" x2="109.17" y2="393.25" stroke="#0c96ee" stroke-width="0.9"/>
<line x1="107.97" y1="390.05" x2="110.37" y2="390.05" stroke="#0c96ee" stroke-width="0.9"/>
<line x1="107.97" y1="393.25" x2="110.37" y2="393.25" stroke="#0c96ee" stroke-width="0.9"/>
<rect x="107.9" y="390.4" width="2.6" height="2.6" fill="#0c96ee"/>
<line x1="107.78" y1="391.30" x2="107.78" y2="394.50" stroke="#0c96ee" stroke-width="0.9"/>
<line x1="106.58" y1="391.30" x2="108.98" y2="391.30" stroke="#0c96ee" stroke-width="0.9"/>
<line x1="106.58" y1="394.50" x2="108.98" y2="394.50" stroke="#0c96ee" stroke-width="0.9"/>
<rect x="106.5" y="391.6" width="2.6" height="2.6" fill="#0c96ee"/>
<line x1="106.41" y1="392.54" x2="106.41" y2="395.74" stroke="#0c96ee" stroke-width="0.9"/>
<line x1="105.21" y1="392.54" x2="107.61" y2="392.54" stroke="#0c96ee" stroke-width="0.9"/>
<line x1="105.21" y1="395.74" x2="107.61" y2="395.74" stroke="#0c96ee" stroke-width="0.9"/>
<rect x="105.1" y="392.8" width="2.6" height="2.6" fill="#0c96ee"/>
<line x1="105.07" y1="393.75" x2="105.07" y2="396.95" stroke="#0c96ee" stroke-width="0.9"/>
<line x1="103.87" y1="393.75" x2="106.27" y2="393.75" stroke="#0c96ee" stroke-width="0.9"/>
<line x1="103.87" y1="396.95" x2="106.27" y2="396.95" stroke="#0c96ee" stroke-width="0.9"/>
<rect x="103.8" y="394.1" width="2.6" height="2.6" fill="#0c96ee"/>
<line x1="103.74" y1="395.04" x2="103.74" y2="398.24" stroke="#0c96ee" stroke-width="0.9"/>
<line x1="102.54" y1="395.04" x2="104.94" y2="395.04" stroke="#0c96ee" stroke-width="0.9"/>
<line x1="102.54" y1="398.24" x2="104.94" y2="398.24" stroke="#0c96ee" stroke-width="0.9"/>
<rect x="102.4" y="395.3" width="2.6" height="2.6" fill="#0c96ee"/>
<line x1="102.43" y1="396.33" x2="102.43" y2="399.53" stroke="#0c96ee" stroke-width="0.9"/>
<line x1="101.23" y1="396.33" x2="103.63" y2="396.33" stroke="#0c96ee" stroke-width="0.9"/>
<line x1="101.23" y1="399.53" x2="103.63" y2="399.53" stroke="#0c96ee" stroke-width="0.9"/>
<rect x="101.1" y="396.6" width="2.6" height="2.6" fill="#0c96ee"/>
<line x1="101.15" y1="397.59" x2="101.15" y2="400.79" stroke="#0c96ee" stroke-width="0.9"/>
<line x1="99.95" y1="397.59" x2="102.35" y2="397.59" stroke="#0c96ee" stroke-width="0.9"/>
<line x1="99.95" y1="400.79" x2="102.35" y2="400.79" stroke="#0c96ee" stroke-width="0.9"/>
<rect x="99.8" y="397.9" width="2.6" height="2.6" fill="#0c96ee"/>
<line x1="99.88" y1="398.84" x2="99.88" y2="402.04" stroke="#0c96ee" stroke-width="0.9"/>
<line x1="98.68" y1="398.84" x2="101.08" y2="398.84" stroke="#0c96ee" stroke-width="0.9"/>
<line x1="98.68" y1="402.04" x2="101.08" y2="402.04" stroke="#0c96ee" stroke-width="0.9"/>
<rect x="98.6" y="399.1" width="2.6" height="2.6" fill="#0c96ee"/>
<line x1="98.63" y1="400.04" x2="98.63" y2="403.24" stroke="#0c96ee" stroke-width="0.9"/>
<line x1="97.43" y1="400.04" x2="99.83" y2="400.04" stroke="#0c96ee" stroke-width="0.9"/>
<line x1="97.43" y1="403.24" x2="99.83" y2="403.24" stroke="#0c96ee" stroke-width="0.9"/>
<rect x="97.3" y="400.3" width="2.6" height="2.6" fill="#0c96ee"/>
<line x1="97.40" y1="401.06" x2="97.40" y2="404.26" stroke="#0c96ee" stroke-width="0.9"/>
<line x1="96.20" y1="401.06" x2="98.60" y2="401.06" stroke="#0c96ee" stroke-width="0.9"/>
<line x1="96.20" y1="404.26" x2="98.60" y2="404.26" stroke="#0c96ee" stroke-width="0.9"/>
<rect x="96.1" y="401.4" width="2.6" height="2.6" fill="#0c96ee"/>
<line x1="96.19" y1="402.07" x2="96.19" y2="405.27" stroke="#0c96ee" stroke-width="0.9"/>
<line x1="94.99" y1="402.07" x2="97.39" y2="402.07" stroke="#0c96ee" stroke-width="0.9"/>
<line x1="94.99" y1="405.27" x2="97.39" y2="405.27" stroke="#0c96ee" stroke-width="0.9"/>
<rect x="94.9" y="402.4" width="2.6" height="2.6" fill="#0c96ee"/>
<line x1="94.99" y1="403.07" x2="94.99" y2="406.27" stroke="#0c96ee" stroke-width="0.9"/>
<line x1="93.79" y1="403.07" x2="96.19" y2="403.07" stroke="#0c96ee" stroke-width="0.9"/>
<line x1="93.79" y1="406.27" x2="96.19" y2="406.27" stroke="#0c96ee" stroke-width="0.9"/>
<rect x="93.7" y="403.4" width="2.6" height="2.6" fill="#0c96ee"/>
<line x1="93.79" y1="404.07" x2="93.79" y2="407.27" stroke="#0c96ee" stroke-width="0.9"/>
<line x1="92.59" y1="404.07" x2="94.99" y2="404.07" stroke="#0c96ee" stroke-width="0.9"/>
<line x1="92.59" y1="407.27" x2="94.99" y2="407.27" stroke="#0c96ee" stroke-width="0.9"/>
<rect x="92.5" y="404.4" width="2.6" height="2.6" fill="#0c96ee"/>
<line x1="92.59" y1="405.04" x2="92.59" y2="408.24" stroke="#0c96ee" stroke-width="0.9"/>
<line x1="91.39" y1="405.04" x2="93.79" y2="405.04" stroke="#0c96ee" stroke-width="0.9"/>
<line x1="91.39" y1="408.24" x2="93.79" y2="408.24" stroke="#0c96ee" stroke-width="0.9"/>
<rect x="91.3" y="405.3" width="2.6" height="2.6" fill="#0c96ee"/>
<line x1="91.39" y1="405.82" x2="91.39" y2="409.02" stroke="#0c96ee" stroke-width="0.9"/>
<line x1="90.19" y1="405.82" x2="92.59" y2="405.82" stroke="#0c96ee" stroke-width="0.9"/>
<line x1="90.19" y1="409.02" x2="92.59" y2="409.02" stroke="#0c96ee" stroke-width="0.9"/>
<rect x="90.1" y="406.1" width="2.6" height="2.6" fill="#0c96ee"/>
<line x1="90.19" y1="406.61" x2="90.19" y2="409.81" stroke="#0c96ee" stroke-width="0.9"/>
<line x1="88.99" y1="406.61" x2="91.39" y2="406.61" stroke="#0c96ee" stroke-width="0.9"/>
<line x1="88.99" y1="409.81" x2="91.39" y2="409.81" stroke="#0c96ee" stroke-width="0.9"/>
<rect x="88.9" y="406.9" width="2.6" height="2.6" fill="#0c96ee"/>
<line x1="88.99" y1="407.40" x2="88.99" y2="410.60" stroke="#0c96ee" stroke-width="0.9"/>
<line x1="87.79" y1="407.40" x2="90.19" y2="407.40" stroke="#0c96ee" stroke-width="0.9"/>
<line x1="87.79" y1="410.60" x2="90.19" y2="410.60" stroke="#0c96ee" stroke-width="0.9"/>
<rect x="87.7" y="407.7" width="2.6" height="2.6" fill="#0c96ee"/>
<line x1="87.79" y1="408.18" x2="87.79" y2="411.38" stroke="#0c96ee" stroke-width="0.9"/>
<line x1="86.59" y1="408.18" x2="88.99" y2="408.18" stroke="#0c96ee" stroke-width="0.9"/>
<line x1="86.59" y1="411.38" x2="88.99" y2="411.38" stroke="#0c96ee" stroke-width="0.9"/>
<rect x="86.5" y="408.5" width="2.6" height="2.6" fill="#0c96ee"/>
<line x1="86.59" y1="408.97" x2="86.59" y2="412.17" stroke="#0c96ee" stroke-width="0.9"/>
<line x1="85.39" y1="408.97" x2="87.79" y2="408.97" stroke="#0c96ee" stroke-width="0.9"/>
<line x1="85.39" y1="412.17" x2="87.79" y2="412.17" stroke="#0c96ee" stroke-width="0.9"/>
<rect x="85.3" y="409.3" width="2.6" height="2.6" fill="#0c96ee"/>
<line x1="85.39" y1="409.71" x2="85.39" y2="412.91" stroke="#0c96ee" stroke-width="0.9"/>
<line x1="84.19" y1="409.71" x2="86.59" y2="409.71" stroke="#0c96ee" stroke-width="0.9"/>
<line x1="84.19" y1="412.91" x2="86.59" y2="412.91" stroke="#0c96ee" stroke-width="0.9"/>
<rect x="84.1" y="410.0" width="2.6" height="2.6" fill="#0c96ee"/>
<line x1="84.19" y1="410.45" x2="84.19" y2="413.65" stroke="#0c96ee" stroke-width="0.9"/>
<line x1="82.99" y1="410.45" x2="85.39" y2="410.45" stroke="#0c96ee" stroke-width="0.9"/>
<line x1="82.99" y1="413.65" x2="85.39" y2="413.65" stroke="#0c96ee" stroke-width="0.9"/>
<rect x="82.9" y="410.7" width="2.6" height="2.6" fill="#0c96ee"/>
<line x1="82.99" y1="411.19" x2="82.99" y2="414.39" stroke="#0c96ee" stroke-width="0.9"/>
<line x1="81.79" y1="411.19" x2="84.19" y2="411.19" stroke="#0c96ee" stroke-width="0.9"/>
<line x1="81.79" y1="414.39" x2="84.19" y2="414.39" stroke="#0c96ee" stroke-width="0.9"/>
<rect x="81.7" y="411.5" width="2.6" height="2.6" fill="#0c96ee"/>
<line x1="81.79" y1="411.93" x2="81.79" y2="415.13" stroke="#0c96ee" stroke-width="0.9"/>
<line x1="80.59" y1="411.93" x2="82.99" y2="411.93" stroke="#0c96ee" stroke-width="0.9"/>
<line x1="80.59" y1="415.13" x2="82.99" y2="415.13" stroke="#0c96ee" stroke-width="0.9"/>
<rect x="80.5" y="412.2" width="2.6" height="2.6" fill="#0c96ee"/>
<line x1="80.59" y1="412.66" x2="80.59" y2="415.86" stroke="#0c96ee" stroke-width="0.9"/>
<line x1="79.39" y1="412.66" x2="81.79" y2="412.66" stroke="#0c96ee" stroke-width="0.9"/>
<line x1="79.39" y1="415.86" x2="81.79" y2="415.86" stroke="#0c96ee" stroke-width="0.9"/>
<rect x="79.3" y="413.0" width="2.6" height="2.6" fill="#0c96ee"/>
<line x1="79.39" y1="413.29" x2="79.39" y2="416.49" stroke="#0c96ee" stroke-width="0.9"/>
<line x1="78.19" y1="413.29" x2="80.59" y2="413.29" stroke="#0c96ee" stroke-width="0.9"/>
<line x1="78.19" y1="416.49" x2="80.59" y2="416.49" stroke="#0c96ee" stroke-width="0.9"/>
<rect x="78.1" y="413.6" width="2.6" height="2.6" fill="#0c96ee"/>
<line x1="78.19" y1="413.91" x2="78.19" y2="417.11" stroke="#0c96ee" stroke-width="0.9"/>
<line x1="76.99" y1="413.91" x2="79.39" y2="413.91" stroke="#0c96ee" stroke-width="0.9"/>
<line x1="76.99" y1="417.11" x2="79.39" y2="417.11" stroke="#0c96ee" stroke-width="0.9"/>
<rect x="76.9" y="414.2" width="2.6" height="2.6" fill="#0c96ee"/>
<line x1="76.99" y1="414.54" x2="76.99" y2="417.74" stroke="#0c96ee" stroke-width="0.9"/>
<line x1="75.79" y1="414.54" x2="78.19" y2="414.54" stroke="#0c96ee" stroke-width="0.9"/>
<line x1="75.79" y1="417.74" x2="78.19" y2="417.74" stroke="#0c96ee" stroke-width="0.9"/>
<rect x="75.7" y="414.8" width="2.6" height="2.6" fill="#0c96ee"/>
<polyline points="74.4,418.5 75.5,417.8 77.2,416.9 79.0,415.8 80.7,414.7 82.2,413.7 83.7,412.6 85.2,411.6 86.7,410.5 88.2,409.5 89.7,408.4 91.3,407.4 92.8,406.2 94.3,405.0 95.8,403.6 97.3,402.3 98.8,400.8 100.3,399.2 101.9,397.6 103.4,395.9 104.9,394.2 106.3,392.7 107.7,391.2 109.0,389.6 110.5,388.0 112.1,386.2 113.8,384.2 115.5,382.2 117.3,380.3 119.1,378.5 120.9,376.7 122.7,375.0 124.5,373.3 126.3,371.8 128.1,370.4 129.9,369.0 131.8,367.4 133.7,365.5 135.7,363.4 137.7,361.2 140.0,359.2 142.6,357.4 145.4,355.7 148.2,354.0 151.0,352.0 153.8,349.5 156.7,346.7 159.4,344.0" fill="none" stroke="#111" stroke-width="2.4" stroke-linejoin="round" stroke-linecap="round"/>
<polyline points="151.0,352.0 153.8,349.5 156.7,346.7 159.4,344.0 161.6,341.9 163.0,340.6 164.0,339.7 164.7,339.1 165.5,338.4 166.5,337.6 167.4,336.7 168.3,335.9 169.3,335.1 170.3,334.3 171.3,333.5 172.2,332.7 173.2,332.0 174.1,331.3 175.1,330.6 176.0,330.0 177.0,329.3 178.1,328.6 179.2,328.0 180.3,327.3 181.4,326.5 182.5,325.7 183.6,324.7 184.7,323.8 185.8,323.0 186.8,322.3 187.7,321.6 188.6,321.0 189.6,320.3 190.7,319.6 192.0,319.0 193.2,318.3 194.5,317.5 195.8,316.6 197.0,315.6 198.3,314.6 199.5,313.7 200.6,313.0 201.7,312.5 202.7,311.8 203.9,311.0 205.3,309.9 206.7,308.5 208.2,307.0 209.7,305.5 211.1,303.8 212.5,302.0 213.9,300.2 215.3,298.6 216.6,297.2 217.9,295.9 219.2,294.7 220.6,293.3 222.0,291.7 223.4,289.9 224.9,288.2 226.5,286.8 228.2,285.8 230.1,285.2 232.0,284.6 233.8,283.8 235.8,282.6 237.8,281.2 239.6,279.8 240.9,278.9" fill="none" stroke="#111" stroke-width="1.2" stroke-linejoin="round" stroke-linecap="round"/>
<line x1="240.90" y1="272.46" x2="240.90" y2="285.34" stroke="#111" stroke-width="0.8"/>
<line x1="239.60" y1="272.46" x2="242.20" y2="272.46" stroke="#111" stroke-width="0.8"/>
<line x1="239.60" y1="285.34" x2="242.20" y2="285.34" stroke="#111" stroke-width="0.8"/>
<path d="M239.0,280.3 L240.9,277.2 L242.8,280.3Z" fill="#111"/>
<line x1="234.76" y1="276.94" x2="234.76" y2="289.33" stroke="#111" stroke-width="0.8"/>
<line x1="233.46" y1="276.94" x2="236.06" y2="276.94" stroke="#111" stroke-width="0.8"/>
<line x1="233.46" y1="289.33" x2="236.06" y2="289.33" stroke="#111" stroke-width="0.8"/>
<path d="M232.9,284.5 L234.8,281.4 L236.7,284.5Z" fill="#111"/>
<line x1="228.87" y1="279.87" x2="228.87" y2="291.78" stroke="#111" stroke-width="0.8"/>
<line x1="227.57" y1="279.87" x2="230.17" y2="279.87" stroke="#111" stroke-width="0.8"/>
<line x1="227.57" y1="291.78" x2="230.17" y2="291.78" stroke="#111" stroke-width="0.8"/>
<path d="M227.0,287.2 L228.9,284.1 L230.8,287.2Z" fill="#111"/>
<line x1="223.22" y1="284.69" x2="223.22" y2="296.14" stroke="#111" stroke-width="0.8"/>
<line x1="221.92" y1="284.69" x2="224.52" y2="284.69" stroke="#111" stroke-width="0.8"/>
<line x1="221.92" y1="296.14" x2="224.52" y2="296.14" stroke="#111" stroke-width="0.8"/>
<path d="M221.3,291.8 L223.2,288.7 L225.1,291.8Z" fill="#111"/>
<line x1="217.79" y1="290.60" x2="217.79" y2="301.62" stroke="#111" stroke-width="0.8"/>
<line x1="216.49" y1="290.60" x2="219.09" y2="290.60" stroke="#111" stroke-width="0.8"/>
<line x1="216.49" y1="301.62" x2="219.09" y2="301.62" stroke="#111" stroke-width="0.8"/>
<path d="M215.9,297.5 L217.8,294.4 L219.7,297.5Z" fill="#111"/>
<line x1="212.58" y1="296.65" x2="212.58" y2="307.26" stroke="#111" stroke-width="0.8"/>
<line x1="211.28" y1="296.65" x2="213.88" y2="296.65" stroke="#111" stroke-width="0.8"/>
<line x1="211.28" y1="307.26" x2="213.88" y2="307.26" stroke="#111" stroke-width="0.8"/>
<path d="M210.7,303.4 L212.6,300.3 L214.5,303.4Z" fill="#111"/>
<line x1="207.58" y1="302.41" x2="207.58" y2="312.62" stroke="#111" stroke-width="0.8"/>
<line x1="206.28" y1="302.41" x2="208.88" y2="302.41" stroke="#111" stroke-width="0.8"/>
<line x1="206.28" y1="312.62" x2="208.88" y2="312.62" stroke="#111" stroke-width="0.8"/>
<path d="M205.7,308.9 L207.6,305.8 L209.5,308.9Z" fill="#111"/>
<line x1="202.77" y1="306.78" x2="202.77" y2="316.60" stroke="#111" stroke-width="0.8"/>
<line x1="201.47" y1="306.78" x2="204.07" y2="306.78" stroke="#111" stroke-width="0.8"/>
<line x1="201.47" y1="316.60" x2="204.07" y2="316.60" stroke="#111" stroke-width="0.8"/>
<path d="M200.9,313.1 L202.8,310.0 L204.7,313.1Z" fill="#111"/>
<line x1="198.16" y1="309.99" x2="198.16" y2="319.44" stroke="#111" stroke-width="0.8"/>
<line x1="196.86" y1="309.99" x2="199.46" y2="309.99" stroke="#111" stroke-width="0.8"/>
<line x1="196.86" y1="319.44" x2="199.46" y2="319.44" stroke="#111" stroke-width="0.8"/>
<path d="M196.3,316.1 L198.2,313.0 L200.1,316.1Z" fill="#111"/>
<line x1="193.73" y1="313.39" x2="193.73" y2="322.49" stroke="#111" stroke-width="0.8"/>
<line x1="192.43" y1="313.39" x2="195.03" y2="313.39" stroke="#111" stroke-width="0.8"/>
<line x1="192.43" y1="322.49" x2="195.03" y2="322.49" stroke="#111" stroke-width="0.8"/>
<path d="M191.8,319.3 L193.7,316.2 L195.6,319.3Z" fill="#111"/>
<line x1="189.49" y1="316.00" x2="189.49" y2="324.76" stroke="#111" stroke-width="0.8"/>
<line x1="188.19" y1="316.00" x2="190.79" y2="316.00" stroke="#111" stroke-width="0.8"/>
<line x1="188.19" y1="324.76" x2="190.79" y2="324.76" stroke="#111" stroke-width="0.8"/>
<path d="M187.6,321.8 L189.5,318.7 L191.4,321.8Z" fill="#111"/>
<line x1="185.41" y1="319.10" x2="185.41" y2="327.53" stroke="#111" stroke-width="0.8"/>
<line x1="184.11" y1="319.10" x2="186.71" y2="319.10" stroke="#111" stroke-width="0.8"/>
<line x1="184.11" y1="327.53" x2="186.71" y2="327.53" stroke="#111" stroke-width="0.8"/>
<path d="M183.5,324.7 L185.4,321.6 L187.3,324.7Z" fill="#111"/>
<line x1="181.49" y1="322.37" x2="181.49" y2="330.49" stroke="#111" stroke-width="0.8"/>
<line x1="180.19" y1="322.37" x2="182.79" y2="322.37" stroke="#111" stroke-width="0.8"/>
<line x1="180.19" y1="330.49" x2="182.79" y2="330.49" stroke="#111" stroke-width="0.8"/>
<path d="M179.6,327.8 L181.5,324.7 L183.4,327.8Z" fill="#111"/>
<line x1="177.73" y1="324.93" x2="177.73" y2="332.74" stroke="#111" stroke-width="0.8"/>
<line x1="176.43" y1="324.93" x2="179.03" y2="324.93" stroke="#111" stroke-width="0.8"/>
<line x1="176.43" y1="332.74" x2="179.03" y2="332.74" stroke="#111" stroke-width="0.8"/>
<path d="M175.8,330.2 L177.7,327.1 L179.6,330.2Z" fill="#111"/>
<line x1="174.12" y1="327.58" x2="174.12" y2="335.11" stroke="#111" stroke-width="0.8"/>
<line x1="172.82" y1="327.58" x2="175.42" y2="327.58" stroke="#111" stroke-width="0.8"/>
<line x1="172.82" y1="335.11" x2="175.42" y2="335.11" stroke="#111" stroke-width="0.8"/>
<path d="M172.2,332.7 L174.1,329.6 L176.0,332.7Z" fill="#111"/>
<line x1="170.66" y1="330.40" x2="170.66" y2="337.65" stroke="#111" stroke-width="0.8"/>
<line x1="169.36" y1="330.40" x2="171.96" y2="330.40" stroke="#111" stroke-width="0.8"/>
<line x1="169.36" y1="337.65" x2="171.96" y2="337.65" stroke="#111" stroke-width="0.8"/>
<path d="M168.8,335.4 L170.7,332.3 L172.6,335.4Z" fill="#111"/>
<line x1="167.33" y1="333.32" x2="167.33" y2="340.30" stroke="#111" stroke-width="0.8"/>
<line x1="166.03" y1="333.32" x2="168.63" y2="333.32" stroke="#111" stroke-width="0.8"/>
<line x1="166.03" y1="340.30" x2="168.63" y2="340.30" stroke="#111" stroke-width="0.8"/>
<path d="M165.4,338.2 L167.3,335.1 L169.2,338.2Z" fill="#111"/>
<line x1="164.14" y1="336.26" x2="164.14" y2="342.99" stroke="#111" stroke-width="0.8"/>
<line x1="162.84" y1="336.26" x2="165.44" y2="336.26" stroke="#111" stroke-width="0.8"/>
<line x1="162.84" y1="342.99" x2="165.44" y2="342.99" stroke="#111" stroke-width="0.8"/>
<path d="M162.2,341.0 L164.1,337.9 L166.0,341.0Z" fill="#111"/>
<line x1="161.07" y1="339.16" x2="161.07" y2="345.65" stroke="#111" stroke-width="0.8"/>
<line x1="159.77" y1="339.16" x2="162.37" y2="339.16" stroke="#111" stroke-width="0.8"/>
<line x1="159.77" y1="345.65" x2="162.37" y2="345.65" stroke="#111" stroke-width="0.8"/>
<path d="M159.2,343.8 L161.1,340.7 L163.0,343.8Z" fill="#111"/>
<line x1="158.13" y1="342.08" x2="158.13" y2="348.33" stroke="#111" stroke-width="0.8"/>
<line x1="156.83" y1="342.08" x2="159.43" y2="342.08" stroke="#111" stroke-width="0.8"/>
<line x1="156.83" y1="348.33" x2="159.43" y2="348.33" stroke="#111" stroke-width="0.8"/>
<path d="M156.6,346.6 L158.1,343.5 L159.6,346.6Z" fill="#111"/>
<line x1="155.30" y1="344.89" x2="155.30" y2="350.91" stroke="#111" stroke-width="0.8"/>
<line x1="154.00" y1="344.89" x2="156.60" y2="344.89" stroke="#111" stroke-width="0.8"/>
<line x1="154.00" y1="350.91" x2="156.60" y2="350.91" stroke="#111" stroke-width="0.8"/>
<path d="M153.8,349.3 L155.3,346.2 L156.8,349.3Z" fill="#111"/>
<line x1="152.59" y1="347.58" x2="152.59" y2="353.39" stroke="#111" stroke-width="0.8"/>
<line x1="151.29" y1="347.58" x2="153.89" y2="347.58" stroke="#111" stroke-width="0.8"/>
<line x1="151.29" y1="353.39" x2="153.89" y2="353.39" stroke="#111" stroke-width="0.8"/>
<path d="M151.1,351.9 L152.6,348.8 L154.1,351.9Z" fill="#111"/>
<line x1="149.99" y1="349.86" x2="149.99" y2="355.46" stroke="#111" stroke-width="0.8"/>
<line x1="148.69" y1="349.86" x2="151.29" y2="349.86" stroke="#111" stroke-width="0.8"/>
<line x1="148.69" y1="355.46" x2="151.29" y2="355.46" stroke="#111" stroke-width="0.8"/>
<path d="M148.5,354.1 L150.0,351.0 L151.5,354.1Z" fill="#111"/>
<line x1="147.49" y1="351.60" x2="147.49" y2="357.00" stroke="#111" stroke-width="0.8"/>
<line x1="146.19" y1="351.60" x2="148.79" y2="351.60" stroke="#111" stroke-width="0.8"/>
<line x1="146.19" y1="357.00" x2="148.79" y2="357.00" stroke="#111" stroke-width="0.8"/>
<path d="M146.0,355.7 L147.5,352.6 L149.0,355.7Z" fill="#111"/>
<line x1="145.09" y1="353.27" x2="145.09" y2="358.47" stroke="#111" stroke-width="0.8"/>
<line x1="143.79" y1="353.27" x2="146.39" y2="353.27" stroke="#111" stroke-width="0.8"/>
<line x1="143.79" y1="358.47" x2="146.39" y2="358.47" stroke="#111" stroke-width="0.8"/>
<path d="M143.6,357.3 L145.1,354.2 L146.6,357.3Z" fill="#111"/>
<line x1="142.78" y1="354.87" x2="142.78" y2="359.89" stroke="#111" stroke-width="0.8"/>
<line x1="141.48" y1="354.87" x2="144.08" y2="354.87" stroke="#111" stroke-width="0.8"/>
<line x1="141.48" y1="359.89" x2="144.08" y2="359.89" stroke="#111" stroke-width="0.8"/>
<path d="M141.3,358.8 L142.8,355.7 L144.3,358.8Z" fill="#111"/>
<line x1="140.57" y1="356.40" x2="140.57" y2="361.25" stroke="#111" stroke-width="0.8"/>
<line x1="139.27" y1="356.40" x2="141.87" y2="356.40" stroke="#111" stroke-width="0.8"/>
<line x1="139.27" y1="361.25" x2="141.87" y2="361.25" stroke="#111" stroke-width="0.8"/>
<path d="M139.1,360.2 L140.6,357.1 L142.1,360.2Z" fill="#111"/>
<line x1="138.45" y1="358.41" x2="138.45" y2="363.09" stroke="#111" stroke-width="0.8"/>
<line x1="137.15" y1="358.41" x2="139.75" y2="358.41" stroke="#111" stroke-width="0.8"/>
<line x1="137.15" y1="363.09" x2="139.75" y2="363.09" stroke="#111" stroke-width="0.8"/>
<path d="M137.0,362.1 L138.5,359.0 L140.0,362.1Z" fill="#111"/>
<line x1="136.41" y1="360.53" x2="136.41" y2="365.04" stroke="#111" stroke-width="0.8"/>
<line x1="135.11" y1="360.53" x2="137.71" y2="360.53" stroke="#111" stroke-width="0.8"/>
<line x1="135.11" y1="365.04" x2="137.71" y2="365.04" stroke="#111" stroke-width="0.8"/>
<path d="M134.9,364.2 L136.4,361.1 L137.9,364.2Z" fill="#111"/>
<line x1="134.46" y1="362.57" x2="134.46" y2="366.92" stroke="#111" stroke-width="0.8"/>
<line x1="133.16" y1="362.57" x2="135.76" y2="362.57" stroke="#111" stroke-width="0.8"/>
<line x1="133.16" y1="366.92" x2="135.76" y2="366.92" stroke="#111" stroke-width="0.8"/>
<path d="M133.0,366.1 L134.5,363.0 L136.0,366.1Z" fill="#111"/>
<line x1="132.58" y1="364.52" x2="132.58" y2="368.73" stroke="#111" stroke-width="0.8"/>
<line x1="131.28" y1="364.52" x2="133.88" y2="364.52" stroke="#111" stroke-width="0.8"/>
<line x1="131.28" y1="368.73" x2="133.88" y2="368.73" stroke="#111" stroke-width="0.8"/>
<path d="M131.1,368.0 L132.6,364.9 L134.1,368.0Z" fill="#111"/>
<line x1="130.77" y1="366.20" x2="130.77" y2="370.26" stroke="#111" stroke-width="0.8"/>
<line x1="129.47" y1="366.20" x2="132.07" y2="366.20" stroke="#111" stroke-width="0.8"/>
<line x1="129.47" y1="370.26" x2="132.07" y2="370.26" stroke="#111" stroke-width="0.8"/>
<path d="M129.3,369.6 L130.8,366.5 L132.3,369.6Z" fill="#111"/>
<line x1="129.04" y1="367.67" x2="129.04" y2="371.59" stroke="#111" stroke-width="0.8"/>
<line x1="127.74" y1="367.67" x2="130.34" y2="367.67" stroke="#111" stroke-width="0.8"/>
<line x1="127.74" y1="371.59" x2="130.34" y2="371.59" stroke="#111" stroke-width="0.8"/>
<path d="M127.5,371.0 L129.0,367.9 L130.5,371.0Z" fill="#111"/>
<line x1="127.38" y1="369.08" x2="127.38" y2="372.87" stroke="#111" stroke-width="0.8"/>
<line x1="126.08" y1="369.08" x2="128.68" y2="369.08" stroke="#111" stroke-width="0.8"/>
<line x1="126.08" y1="372.87" x2="128.68" y2="372.87" stroke="#111" stroke-width="0.8"/>
<path d="M125.9,372.4 L127.4,369.3 L128.9,372.4Z" fill="#111"/>
<line x1="125.79" y1="370.43" x2="125.79" y2="374.09" stroke="#111" stroke-width="0.8"/>
<line x1="124.49" y1="370.43" x2="127.09" y2="370.43" stroke="#111" stroke-width="0.8"/>
<line x1="124.49" y1="374.09" x2="127.09" y2="374.09" stroke="#111" stroke-width="0.8"/>
<path d="M124.3,373.7 L125.8,370.6 L127.3,373.7Z" fill="#111"/>
<line x1="124.26" y1="371.77" x2="124.26" y2="375.31" stroke="#111" stroke-width="0.8"/>
<line x1="122.96" y1="371.77" x2="125.56" y2="371.77" stroke="#111" stroke-width="0.8"/>
<line x1="122.96" y1="375.31" x2="125.56" y2="375.31" stroke="#111" stroke-width="0.8"/>
<path d="M122.8,374.9 L124.3,371.8 L125.8,374.9Z" fill="#111"/>
<line x1="122.78" y1="373.26" x2="122.78" y2="376.68" stroke="#111" stroke-width="0.8"/>
<line x1="121.48" y1="373.26" x2="124.08" y2="373.26" stroke="#111" stroke-width="0.8"/>
<line x1="121.48" y1="376.68" x2="124.08" y2="376.68" stroke="#111" stroke-width="0.8"/>
<path d="M121.3,376.4 L122.8,373.3 L124.3,376.4Z" fill="#111"/>
<line x1="121.37" y1="374.68" x2="121.37" y2="377.99" stroke="#111" stroke-width="0.8"/>
<line x1="120.07" y1="374.68" x2="122.67" y2="374.68" stroke="#111" stroke-width="0.8"/>
<line x1="120.07" y1="377.99" x2="122.67" y2="377.99" stroke="#111" stroke-width="0.8"/>
<path d="M119.9,377.7 L121.4,374.6 L122.9,377.7Z" fill="#111"/>
<line x1="120.02" y1="376.06" x2="120.02" y2="379.26" stroke="#111" stroke-width="0.8"/>
<line x1="118.72" y1="376.06" x2="121.32" y2="376.06" stroke="#111" stroke-width="0.8"/>
<line x1="118.72" y1="379.26" x2="121.32" y2="379.26" stroke="#111" stroke-width="0.8"/>
<path d="M118.5,379.1 L120.0,376.0 L121.5,379.1Z" fill="#111"/>
<line x1="118.72" y1="377.37" x2="118.72" y2="380.47" stroke="#111" stroke-width="0.8"/>
<line x1="117.42" y1="377.37" x2="120.02" y2="377.37" stroke="#111" stroke-width="0.8"/>
<line x1="117.42" y1="380.47" x2="120.02" y2="380.47" stroke="#111" stroke-width="0.8"/>
<path d="M117.2,380.3 L118.7,377.2 L120.2,380.3Z" fill="#111"/>
<line x1="117.47" y1="378.64" x2="117.47" y2="381.63" stroke="#111" stroke-width="0.8"/>
<line x1="116.17" y1="378.64" x2="118.77" y2="378.64" stroke="#111" stroke-width="0.8"/>
<line x1="116.17" y1="381.63" x2="118.77" y2="381.63" stroke="#111" stroke-width="0.8"/>
<path d="M116.0,381.5 L117.5,378.4 L119.0,381.5Z" fill="#111"/>
<line x1="116.27" y1="380.02" x2="116.27" y2="382.92" stroke="#111" stroke-width="0.8"/>
<line x1="114.97" y1="380.02" x2="117.57" y2="380.02" stroke="#111" stroke-width="0.8"/>
<line x1="114.97" y1="382.92" x2="117.57" y2="382.92" stroke="#111" stroke-width="0.8"/>
<path d="M114.8,382.9 L116.3,379.8 L117.8,382.9Z" fill="#111"/>
<line x1="115.07" y1="381.42" x2="115.07" y2="384.23" stroke="#111" stroke-width="0.8"/>
<line x1="113.77" y1="381.42" x2="116.37" y2="381.42" stroke="#111" stroke-width="0.8"/>
<line x1="113.77" y1="384.23" x2="116.37" y2="384.23" stroke="#111" stroke-width="0.8"/>
<path d="M113.6,384.2 L115.1,381.1 L116.6,384.2Z" fill="#111"/>
<line x1="113.87" y1="382.83" x2="113.87" y2="385.54" stroke="#111" stroke-width="0.8"/>
<line x1="112.57" y1="382.83" x2="115.17" y2="382.83" stroke="#111" stroke-width="0.8"/>
<line x1="112.57" y1="385.54" x2="115.17" y2="385.54" stroke="#111" stroke-width="0.8"/>
<path d="M112.4,385.6 L113.9,382.5 L115.4,385.6Z" fill="#111"/>
<line x1="112.67" y1="384.24" x2="112.67" y2="386.85" stroke="#111" stroke-width="0.8"/>
<line x1="111.37" y1="384.24" x2="113.97" y2="384.24" stroke="#111" stroke-width="0.8"/>
<line x1="111.37" y1="386.85" x2="113.97" y2="386.85" stroke="#111" stroke-width="0.8"/>
<path d="M111.2,386.9 L112.7,383.8 L114.2,386.9Z" fill="#111"/>
<line x1="111.47" y1="385.64" x2="111.47" y2="388.16" stroke="#111" stroke-width="0.8"/>
<line x1="110.17" y1="385.64" x2="112.77" y2="385.64" stroke="#111" stroke-width="0.8"/>
<line x1="110.17" y1="388.16" x2="112.77" y2="388.16" stroke="#111" stroke-width="0.8"/>
<path d="M110.0,388.3 L111.5,385.2 L113.0,388.3Z" fill="#111"/>
<line x1="110.27" y1="387.04" x2="110.27" y2="389.47" stroke="#111" stroke-width="0.8"/>
<line x1="108.97" y1="387.04" x2="111.57" y2="387.04" stroke="#111" stroke-width="0.8"/>
<line x1="108.97" y1="389.47" x2="111.57" y2="389.47" stroke="#111" stroke-width="0.8"/>
<path d="M108.8,389.7 L110.3,386.6 L111.8,389.7Z" fill="#111"/>
<line x1="109.07" y1="388.38" x2="109.07" y2="390.78" stroke="#111" stroke-width="0.8"/>
<line x1="107.77" y1="388.38" x2="110.37" y2="388.38" stroke="#111" stroke-width="0.8"/>
<line x1="107.77" y1="390.78" x2="110.37" y2="390.78" stroke="#111" stroke-width="0.8"/>
<path d="M107.6,391.0 L109.1,387.9 L110.6,391.0Z" fill="#111"/>
<line x1="107.87" y1="389.71" x2="107.87" y2="392.11" stroke="#111" stroke-width="0.8"/>
<line x1="106.57" y1="389.71" x2="109.17" y2="389.71" stroke="#111" stroke-width="0.8"/>
<line x1="106.57" y1="392.11" x2="109.17" y2="392.11" stroke="#111" stroke-width="0.8"/>
<path d="M106.4,392.3 L107.9,389.2 L109.4,392.3Z" fill="#111"/>
<line x1="106.67" y1="391.04" x2="106.67" y2="393.44" stroke="#111" stroke-width="0.8"/>
<line x1="105.37" y1="391.04" x2="107.97" y2="391.04" stroke="#111" stroke-width="0.8"/>
<line x1="105.37" y1="393.44" x2="107.97" y2="393.44" stroke="#111" stroke-width="0.8"/>
<path d="M105.2,393.6 L106.7,390.5 L108.2,393.6Z" fill="#111"/>
<line x1="105.47" y1="392.37" x2="105.47" y2="394.77" stroke="#111" stroke-width="0.8"/>
<line x1="104.17" y1="392.37" x2="106.77" y2="392.37" stroke="#111" stroke-width="0.8"/>
<line x1="104.17" y1="394.77" x2="106.77" y2="394.77" stroke="#111" stroke-width="0.8"/>
<path d="M104.0,395.0 L105.5,391.9 L107.0,395.0Z" fill="#111"/>
<line x1="104.27" y1="393.68" x2="104.27" y2="396.08" stroke="#111" stroke-width="0.8"/>
<line x1="102.97" y1="393.68" x2="105.57" y2="393.68" stroke="#111" stroke-width="0.8"/>
<line x1="102.97" y1="396.08" x2="105.57" y2="396.08" stroke="#111" stroke-width="0.8"/>
<path d="M102.8,396.3 L104.3,393.2 L105.8,396.3Z" fill="#111"/>
<line x1="103.07" y1="394.98" x2="103.07" y2="397.38" stroke="#111" stroke-width="0.8"/>
<line x1="101.77" y1="394.98" x2="104.37" y2="394.98" stroke="#111" stroke-width="0.8"/>
<line x1="101.77" y1="397.38" x2="104.37" y2="397.38" stroke="#111" stroke-width="0.8"/>
<path d="M101.6,397.6 L103.1,394.5 L104.6,397.6Z" fill="#111"/>
<line x1="101.87" y1="396.28" x2="101.87" y2="398.68" stroke="#111" stroke-width="0.8"/>
<line x1="100.57" y1="396.28" x2="103.17" y2="396.28" stroke="#111" stroke-width="0.8"/>
<line x1="100.57" y1="398.68" x2="103.17" y2="398.68" stroke="#111" stroke-width="0.8"/>
<path d="M100.4,398.9 L101.9,395.8 L103.4,398.9Z" fill="#111"/>
<line x1="100.67" y1="397.58" x2="100.67" y2="399.98" stroke="#111" stroke-width="0.8"/>
<line x1="99.37" y1="397.58" x2="101.97" y2="397.58" stroke="#111" stroke-width="0.8"/>
<line x1="99.37" y1="399.98" x2="101.97" y2="399.98" stroke="#111" stroke-width="0.8"/>
<path d="M99.2,400.2 L100.7,397.1 L102.2,400.2Z" fill="#111"/>
<line x1="99.47" y1="398.88" x2="99.47" y2="401.28" stroke="#111" stroke-width="0.8"/>
<line x1="98.17" y1="398.88" x2="100.77" y2="398.88" stroke="#111" stroke-width="0.8"/>
<line x1="98.17" y1="401.28" x2="100.77" y2="401.28" stroke="#111" stroke-width="0.8"/>
<path d="M98.0,401.5 L99.5,398.4 L101.0,401.5Z" fill="#111"/>
<line x1="98.27" y1="400.08" x2="98.27" y2="402.48" stroke="#111" stroke-width="0.8"/>
<line x1="96.97" y1="400.08" x2="99.57" y2="400.08" stroke="#111" stroke-width="0.8"/>
<line x1="96.97" y1="402.48" x2="99.57" y2="402.48" stroke="#111" stroke-width="0.8"/>
<path d="M96.8,402.7 L98.3,399.6 L99.8,402.7Z" fill="#111"/>
<line x1="97.07" y1="401.16" x2="97.07" y2="403.56" stroke="#111" stroke-width="0.8"/>
<line x1="95.77" y1="401.16" x2="98.37" y2="401.16" stroke="#111" stroke-width="0.8"/>
<line x1="95.77" y1="403.56" x2="98.37" y2="403.56" stroke="#111" stroke-width="0.8"/>
<path d="M95.6,403.8 L97.1,400.7 L98.6,403.8Z" fill="#111"/>
<line x1="95.87" y1="402.24" x2="95.87" y2="404.64" stroke="#111" stroke-width="0.8"/>
<line x1="94.57" y1="402.24" x2="97.17" y2="402.24" stroke="#111" stroke-width="0.8"/>
<line x1="94.57" y1="404.64" x2="97.17" y2="404.64" stroke="#111" stroke-width="0.8"/>
<path d="M94.4,404.8 L95.9,401.7 L97.4,404.8Z" fill="#111"/>
<line x1="94.67" y1="403.32" x2="94.67" y2="405.72" stroke="#111" stroke-width="0.8"/>
<line x1="93.37" y1="403.32" x2="95.97" y2="403.32" stroke="#111" stroke-width="0.8"/>
<line x1="93.37" y1="405.72" x2="95.97" y2="405.72" stroke="#111" stroke-width="0.8"/>
<path d="M93.2,405.9 L94.7,402.8 L96.2,405.9Z" fill="#111"/>
<line x1="93.47" y1="404.40" x2="93.47" y2="406.80" stroke="#111" stroke-width="0.8"/>
<line x1="92.17" y1="404.40" x2="94.77" y2="404.40" stroke="#111" stroke-width="0.8"/>
<line x1="92.17" y1="406.80" x2="94.77" y2="406.80" stroke="#111" stroke-width="0.8"/>
<path d="M92.0,407.0 L93.5,403.9 L95.0,407.0Z" fill="#111"/>
<line x1="92.27" y1="405.37" x2="92.27" y2="407.77" stroke="#111" stroke-width="0.8"/>
<line x1="90.97" y1="405.37" x2="93.57" y2="405.37" stroke="#111" stroke-width="0.8"/>
<line x1="90.97" y1="407.77" x2="93.57" y2="407.77" stroke="#111" stroke-width="0.8"/>
<path d="M90.8,408.0 L92.3,404.9 L93.8,408.0Z" fill="#111"/>
<line x1="91.07" y1="406.22" x2="91.07" y2="408.62" stroke="#111" stroke-width="0.8"/>
<line x1="89.77" y1="406.22" x2="92.37" y2="406.22" stroke="#111" stroke-width="0.8"/>
<line x1="89.77" y1="408.62" x2="92.37" y2="408.62" stroke="#111" stroke-width="0.8"/>
<path d="M89.6,408.8 L91.1,405.7 L92.6,408.8Z" fill="#111"/>
<line x1="89.87" y1="407.07" x2="89.87" y2="409.47" stroke="#111" stroke-width="0.8"/>
<line x1="88.57" y1="407.07" x2="91.17" y2="407.07" stroke="#111" stroke-width="0.8"/>
<line x1="88.57" y1="409.47" x2="91.17" y2="409.47" stroke="#111" stroke-width="0.8"/>
<path d="M88.4,409.7 L89.9,406.6 L91.4,409.7Z" fill="#111"/>
<line x1="88.67" y1="407.91" x2="88.67" y2="410.31" stroke="#111" stroke-width="0.8"/>
<line x1="87.37" y1="407.91" x2="89.97" y2="407.91" stroke="#111" stroke-width="0.8"/>
<line x1="87.37" y1="410.31" x2="89.97" y2="410.31" stroke="#111" stroke-width="0.8"/>
<path d="M87.2,410.5 L88.7,407.4 L90.2,410.5Z" fill="#111"/>
<line x1="87.47" y1="408.76" x2="87.47" y2="411.16" stroke="#111" stroke-width="0.8"/>
<line x1="86.17" y1="408.76" x2="88.77" y2="408.76" stroke="#111" stroke-width="0.8"/>
<line x1="86.17" y1="411.16" x2="88.77" y2="411.16" stroke="#111" stroke-width="0.8"/>
<path d="M86.0,411.4 L87.5,408.3 L89.0,411.4Z" fill="#111"/>
<line x1="86.27" y1="409.60" x2="86.27" y2="412.00" stroke="#111" stroke-width="0.8"/>
<line x1="84.97" y1="409.60" x2="87.57" y2="409.60" stroke="#111" stroke-width="0.8"/>
<line x1="84.97" y1="412.00" x2="87.57" y2="412.00" stroke="#111" stroke-width="0.8"/>
<path d="M84.8,412.2 L86.3,409.1 L87.8,412.2Z" fill="#111"/>
<line x1="85.07" y1="410.44" x2="85.07" y2="412.84" stroke="#111" stroke-width="0.8"/>
<line x1="83.77" y1="410.44" x2="86.37" y2="410.44" stroke="#111" stroke-width="0.8"/>
<line x1="83.77" y1="412.84" x2="86.37" y2="412.84" stroke="#111" stroke-width="0.8"/>
<path d="M83.6,413.0 L85.1,409.9 L86.6,413.0Z" fill="#111"/>
<line x1="83.87" y1="411.28" x2="83.87" y2="413.68" stroke="#111" stroke-width="0.8"/>
<line x1="82.57" y1="411.28" x2="85.17" y2="411.28" stroke="#111" stroke-width="0.8"/>
<line x1="82.57" y1="413.68" x2="85.17" y2="413.68" stroke="#111" stroke-width="0.8"/>
<path d="M82.4,413.9 L83.9,410.8 L85.4,413.9Z" fill="#111"/>
<line x1="82.67" y1="412.12" x2="82.67" y2="414.52" stroke="#111" stroke-width="0.8"/>
<line x1="81.37" y1="412.12" x2="83.97" y2="412.12" stroke="#111" stroke-width="0.8"/>
<line x1="81.37" y1="414.52" x2="83.97" y2="414.52" stroke="#111" stroke-width="0.8"/>
<path d="M81.2,414.7 L82.7,411.6 L84.2,414.7Z" fill="#111"/>
<line x1="81.47" y1="412.96" x2="81.47" y2="415.36" stroke="#111" stroke-width="0.8"/>
<line x1="80.17" y1="412.96" x2="82.77" y2="412.96" stroke="#111" stroke-width="0.8"/>
<line x1="80.17" y1="415.36" x2="82.77" y2="415.36" stroke="#111" stroke-width="0.8"/>
<path d="M80.0,415.6 L81.5,412.5 L83.0,415.6Z" fill="#111"/>
<line x1="80.27" y1="413.76" x2="80.27" y2="416.16" stroke="#111" stroke-width="0.8"/>
<line x1="78.97" y1="413.76" x2="81.57" y2="413.76" stroke="#111" stroke-width="0.8"/>
<line x1="78.97" y1="416.16" x2="81.57" y2="416.16" stroke="#111" stroke-width="0.8"/>
<path d="M78.8,416.4 L80.3,413.3 L81.8,416.4Z" fill="#111"/>
<line x1="79.07" y1="414.48" x2="79.07" y2="416.88" stroke="#111" stroke-width="0.8"/>
<line x1="77.77" y1="414.48" x2="80.37" y2="414.48" stroke="#111" stroke-width="0.8"/>
<line x1="77.77" y1="416.88" x2="80.37" y2="416.88" stroke="#111" stroke-width="0.8"/>
<path d="M77.6,417.1 L79.1,414.0 L80.6,417.1Z" fill="#111"/>
<line x1="77.87" y1="415.21" x2="77.87" y2="417.61" stroke="#111" stroke-width="0.8"/>
<line x1="76.57" y1="415.21" x2="79.17" y2="415.21" stroke="#111" stroke-width="0.8"/>
<line x1="76.57" y1="417.61" x2="79.17" y2="417.61" stroke="#111" stroke-width="0.8"/>
<path d="M76.4,417.8 L77.9,414.7 L79.4,417.8Z" fill="#111"/>
<line x1="76.67" y1="415.93" x2="76.67" y2="418.33" stroke="#111" stroke-width="0.8"/>
<line x1="75.37" y1="415.93" x2="77.97" y2="415.93" stroke="#111" stroke-width="0.8"/>
<line x1="75.37" y1="418.33" x2="77.97" y2="418.33" stroke="#111" stroke-width="0.8"/>
<path d="M75.2,418.5 L76.7,415.4 L78.2,418.5Z" fill="#111"/>
<line x1="107.70" y1="384.50" x2="131.20" y2="357.40" stroke="#111" stroke-width="0.9"/>
<line x1="106.50" y1="386.50" x2="149.30" y2="365.50" stroke="#1020e0" stroke-width="1.1"/>
<line x1="109.80" y1="396.00" x2="135.50" y2="378.50" stroke="#f22828" stroke-width="0.9"/>
<line x1="121.50" y1="340.90" x2="121.50" y2="393.00" stroke="#8cc850" stroke-width="1.6" stroke-dasharray="4.6,2.7"/>
<line x1="126.10" y1="362.00" x2="126.10" y2="414.00" stroke="#8cc850" stroke-width="1.6" stroke-dasharray="4.6,2.7"/>
<text x="109.6" y="359.6" font-size="11.5" font-weight="bold" text-anchor="start" fill="#111">h<tspan font-size="7.5" dy="3">c</tspan></text>
<text x="128.3" y="405.4" font-size="11.5" font-weight="bold" text-anchor="start" fill="#111">h<tspan font-size="7.5" dy="3">c</tspan></text>
<line x1="71.50" y1="284.80" x2="92.10" y2="284.80" stroke="#111" stroke-width="1.1"/>
<path d="M79.8,286.1 L82,282.40000000000003 L84.2,286.1Z" fill="#111"/>
<text x="95" y="287.90000000000003" font-size="9" font-weight="normal" text-anchor="start" fill="#222">Pure W</text>
<line x1="71.50" y1="296.10" x2="92.10" y2="296.10" stroke="#0c96ee" stroke-width="1.1"/>
<rect x="80" y="294.20000000000005" width="3.9" height="3.9" rx="0.6" fill="#0c96ee"/>
<text x="95" y="299.20000000000005" font-size="9" font-weight="normal" text-anchor="start" fill="#222">Sintered W-ZrO<tspan font-size="6.5" dy="2.3">2</tspan></text>
<line x1="71.50" y1="309.10" x2="92.10" y2="309.10" stroke="#f22828" stroke-width="1.1"/>
<circle cx="82" cy="309.1" r="2.1" fill="#f22828"/>
<text x="95" y="312.20000000000005" font-size="9" font-weight="normal" text-anchor="start" fill="#222">Swaged W-ZrO<tspan font-size="6.5" dy="2.3">2</tspan></text>
<rect x="314" y="250.4" width="217.29999999999995" height="174.20000000000002" fill="none" stroke="#111" stroke-width="1.3"/>
<line x1="314.00" y1="389.44" x2="317.50" y2="389.44" stroke="#111" stroke-width="1.1"/>
<line x1="314.00" y1="354.68" x2="317.50" y2="354.68" stroke="#111" stroke-width="1.1"/>
<line x1="314.00" y1="319.92" x2="317.50" y2="319.92" stroke="#111" stroke-width="1.1"/>
<line x1="314.00" y1="285.16" x2="317.50" y2="285.16" stroke="#111" stroke-width="1.1"/>
<line x1="314.00" y1="406.82" x2="316.00" y2="406.82" stroke="#111" stroke-width="1.1"/>
<line x1="314.00" y1="372.06" x2="316.00" y2="372.06" stroke="#111" stroke-width="1.1"/>
<line x1="314.00" y1="337.30" x2="316.00" y2="337.30" stroke="#111" stroke-width="1.1"/>
<line x1="314.00" y1="302.54" x2="316.00" y2="302.54" stroke="#111" stroke-width="1.1"/>
<line x1="314.00" y1="267.78" x2="316.00" y2="267.78" stroke="#111" stroke-width="1.1"/>
<text x="310.2" y="427.4" font-size="10" font-weight="bold" text-anchor="end" fill="#111">0</text>
<text x="310.2" y="392.64" font-size="10" font-weight="bold" text-anchor="end" fill="#111">2</text>
<text x="310.2" y="357.88" font-size="10" font-weight="bold" text-anchor="end" fill="#111">4</text>
<text x="310.2" y="323.11999999999995" font-size="10" font-weight="bold" text-anchor="end" fill="#111">6</text>
<text x="310.2" y="288.35999999999996" font-size="10" font-weight="bold" text-anchor="end" fill="#111">8</text>
<text x="310.2" y="253.6" font-size="10" font-weight="bold" text-anchor="end" fill="#111">10</text>
<text x="289.5" y="338.2" font-size="11.4" font-weight="bold" text-anchor="middle" fill="#111" transform="rotate(-90 289.5 338.2)">&#916; Hardness (GPa)</text>
<text x="314.6" y="267.6" font-size="17.5" font-weight="bold" text-anchor="start" fill="#111">(d)</text>
<clipPath id="cb0"><rect x="347.0" y="274.3" width="13.699999999999989" height="150.3"/></clipPath>
<rect x="347.0" y="274.3" width="13.699999999999989" height="150.3" fill="#b4b4b4"/>
<path d="M346.00,275.30 L361.70,259.60 M346.00,278.46 L361.70,262.76 M346.00,281.62 L361.70,265.92 M346.00,284.78 L361.70,269.08 M346.00,287.94 L361.70,272.24 M346.00,291.10 L361.70,275.40 M346.00,294.26 L361.70,278.56 M346.00,297.42 L361.70,281.72 M346.00,300.58 L361.70,284.88 M346.00,303.74 L361.70,288.04 M346.00,306.90 L361.70,291.20 M346.00,310.06 L361.70,294.36 M346.00,313.22 L361.70,297.52 M346.00,316.38 L361.70,300.68 M346.00,319.54 L361.70,303.84 M346.00,322.70 L361.70,307.00 M346.00,325.86 L361.70,310.16 M346.00,329.02 L361.70,313.32 M346.00,332.18 L361.70,316.48 M346.00,335.34 L361.70,319.64 M346.00,338.50 L361.70,322.80 M346.00,341.66 L361.70,325.96 M346.00,344.82 L361.70,329.12 M346.00,347.98 L361.70,332.28 M346.00,351.14 L361.70,335.44 M346.00,354.30 L361.70,338.60 M346.00,357.46 L361.70,341.76 M346.00,360.62 L361.70,344.92 M346.00,363.78 L361.70,348.08 M346.00,366.94 L361.70,351.24 M346.00,370.10 L361.70,354.40 M346.00,373.26 L361.70,357.56 M346.00,376.42 L361.70,360.72 M346.00,379.58 L361.70,363.88 M346.00,382.74 L361.70,367.04 M346.00,385.90 L361.70,370.20 M346.00,389.06 L361.70,373.36 M346.00,392.22 L361.70,376.52 M346.00,395.38 L361.70,379.68 M346.00,398.54 L361.70,382.84 M346.00,401.70 L361.70,386.00 M346.00,404.86 L361.70,389.16 M346.00,408.02 L361.70,392.32 M346.00,411.18 L361.70,395.48 M346.00,414.34 L361.70,398.64 M346.00,417.50 L361.70,401.80 M346.00,420.66 L361.70,404.96 M346.00,423.82 L361.70,408.12 M346.00,426.98 L361.70,411.28 M346.00,430.14 L361.70,414.44 M346.00,433.30 L361.70,417.60 M346.00,436.46 L361.70,420.76 M346.00,439.62 L361.70,423.92" stroke="#111" stroke-width="1.25" clip-path="url(#cb0)"/>
<rect x="347.0" y="274.3" width="13.699999999999989" height="150.3" fill="none" stroke="#111" stroke-width="1.6"/>
<line x1="353.85" y1="258.70" x2="353.85" y2="288.70" stroke="#111" stroke-width="1.3"/>
<line x1="351.25" y1="258.70" x2="356.45" y2="258.70" stroke="#111" stroke-width="1.3"/>
<line x1="351.25" y1="288.70" x2="356.45" y2="288.70" stroke="#111" stroke-width="1.3"/>
<clipPath id="cb1"><rect x="415.5" y="328.8" width="14.300000000000011" height="95.80000000000001"/></clipPath>
<rect x="415.5" y="328.8" width="14.300000000000011" height="95.80000000000001" fill="#f4fafe"/>
<path d="M414.50,329.80 L430.80,313.50 M414.50,332.96 L430.80,316.66 M414.50,336.12 L430.80,319.82 M414.50,339.28 L430.80,322.98 M414.50,342.44 L430.80,326.14 M414.50,345.60 L430.80,329.30 M414.50,348.76 L430.80,332.46 M414.50,351.92 L430.80,335.62 M414.50,355.08 L430.80,338.78 M414.50,358.24 L430.80,341.94 M414.50,361.40 L430.80,345.10 M414.50,364.56 L430.80,348.26 M414.50,367.72 L430.80,351.42 M414.50,370.88 L430.80,354.58 M414.50,374.04 L430.80,357.74 M414.50,377.20 L430.80,360.90 M414.50,380.36 L430.80,364.06 M414.50,383.52 L430.80,367.22 M414.50,386.68 L430.80,370.38 M414.50,389.84 L430.80,373.54 M414.50,393.00 L430.80,376.70 M414.50,396.16 L430.80,379.86 M414.50,399.32 L430.80,383.02 M414.50,402.48 L430.80,386.18 M414.50,405.64 L430.80,389.34 M414.50,408.80 L430.80,392.50 M414.50,411.96 L430.80,395.66 M414.50,415.12 L430.80,398.82 M414.50,418.28 L430.80,401.98 M414.50,421.44 L430.80,405.14 M414.50,424.60 L430.80,408.30 M414.50,427.76 L430.80,411.46 M414.50,430.92 L430.80,414.62 M414.50,434.08 L430.80,417.78 M414.50,437.24 L430.80,420.94 M414.50,440.40 L430.80,424.10" stroke="#0c96ee" stroke-width="1.3" clip-path="url(#cb1)"/>
<rect x="415.5" y="328.8" width="14.300000000000011" height="95.80000000000001" fill="none" stroke="#0c96ee" stroke-width="1.25"/>
<line x1="422.65" y1="318.90" x2="422.65" y2="337.80" stroke="#0c96ee" stroke-width="1.3"/>
<line x1="420.05" y1="318.90" x2="425.25" y2="318.90" stroke="#0c96ee" stroke-width="1.3"/>
<line x1="420.05" y1="337.80" x2="425.25" y2="337.80" stroke="#0c96ee" stroke-width="1.3"/>
<clipPath id="cb2"><rect x="484.5" y="346.7" width="13.5" height="77.90000000000003"/></clipPath>
<rect x="484.5" y="346.7" width="13.5" height="77.90000000000003" fill="#fff4f4"/>
<path d="M483.50,347.70 L499.00,332.20 M483.50,350.86 L499.00,335.36 M483.50,354.02 L499.00,338.52 M483.50,357.18 L499.00,341.68 M483.50,360.34 L499.00,344.84 M483.50,363.50 L499.00,348.00 M483.50,366.66 L499.00,351.16 M483.50,369.82 L499.00,354.32 M483.50,372.98 L499.00,357.48 M483.50,376.14 L499.00,360.64 M483.50,379.30 L499.00,363.80 M483.50,382.46 L499.00,366.96 M483.50,385.62 L499.00,370.12 M483.50,388.78 L499.00,373.28 M483.50,391.94 L499.00,376.44 M483.50,395.10 L499.00,379.60 M483.50,398.26 L499.00,382.76 M483.50,401.42 L499.00,385.92 M483.50,404.58 L499.00,389.08 M483.50,407.74 L499.00,392.24 M483.50,410.90 L499.00,395.40 M483.50,414.06 L499.00,398.56 M483.50,417.22 L499.00,401.72 M483.50,420.38 L499.00,404.88 M483.50,423.54 L499.00,408.04 M483.50,426.70 L499.00,411.20 M483.50,429.86 L499.00,414.36 M483.50,433.02 L499.00,417.52 M483.50,436.18 L499.00,420.68 M483.50,439.34 L499.00,423.84" stroke="#f22828" stroke-width="1.3" clip-path="url(#cb2)"/>
<rect x="484.5" y="346.7" width="13.5" height="77.90000000000003" fill="none" stroke="#f22828" stroke-width="1.25"/>
<line x1="491.25" y1="335.00" x2="491.25" y2="356.80" stroke="#f22828" stroke-width="1.3"/>
<line x1="488.65" y1="335.00" x2="493.85" y2="335.00" stroke="#f22828" stroke-width="1.3"/>
<line x1="488.65" y1="356.80" x2="493.85" y2="356.80" stroke="#f22828" stroke-width="1.3"/>
<text x="334.8" y="435.3" font-size="11.3" font-weight="bold" text-anchor="start" fill="#111">Pure W</text>
<text x="377.8" y="435.3" font-size="11.3" font-weight="bold" text-anchor="start" fill="#111">Sintered W-ZrO<tspan font-size="8" dy="2.5">2</tspan></text>
<text x="466.7" y="435.3" font-size="11.3" font-weight="bold" text-anchor="start" fill="#111">Swaged W-ZrO<tspan font-size="8" dy="2.5">2</tspan></text>
</svg>
</body></html>
